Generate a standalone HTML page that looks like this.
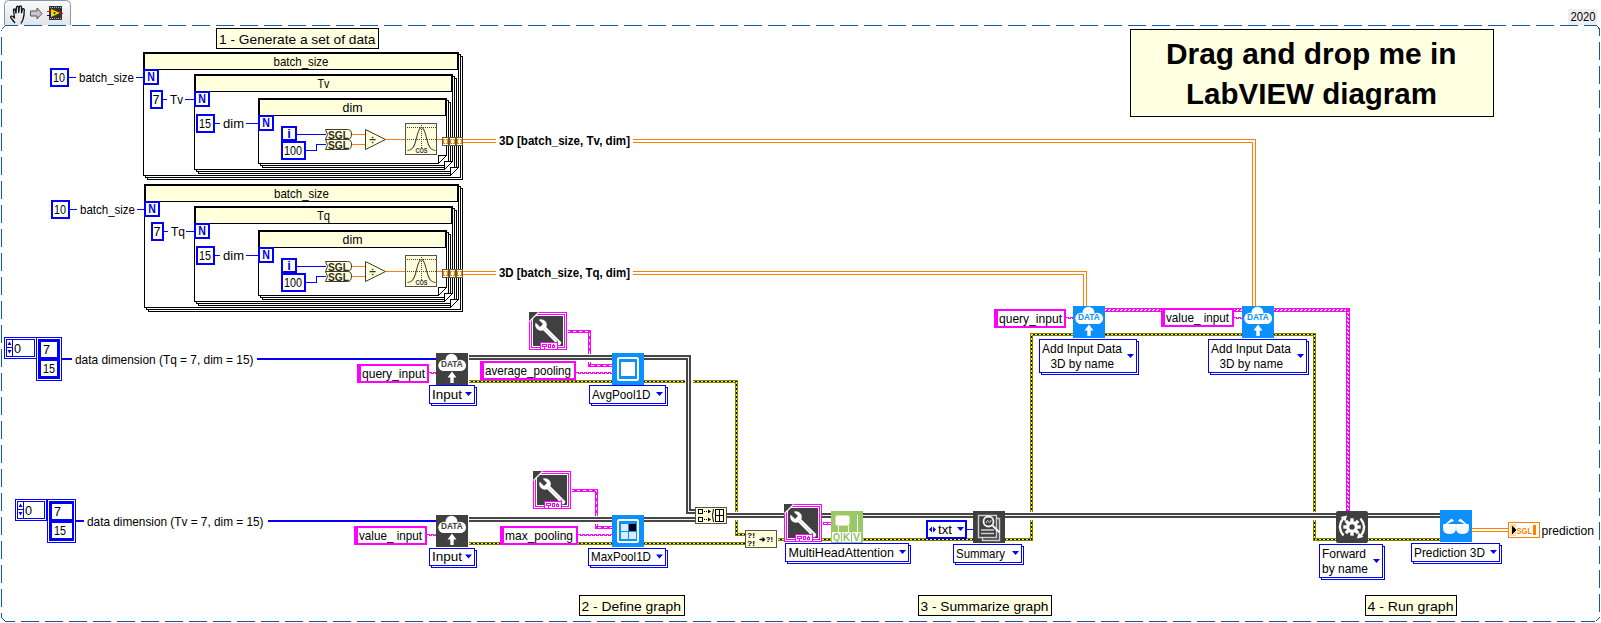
<!DOCTYPE html>
<html><head><meta charset="utf-8"><style>
html,body{margin:0;padding:0;background:#fff;overflow:hidden;}
svg{display:block;font-family:"Liberation Sans", sans-serif;}
</style></head><body>
<svg width="1601" height="623" viewBox="0 0 1601 623" shape-rendering="crispEdges">
<rect x="5" y="25" width="13" height="1" fill="#0B5DA5"/><rect x="24" y="25" width="18" height="1" fill="#0B5DA5"/><rect x="48" y="25" width="18" height="1" fill="#0B5DA5"/><rect x="72" y="25" width="18" height="1" fill="#0B5DA5"/><rect x="96" y="25" width="18" height="1" fill="#0B5DA5"/><rect x="120" y="25" width="18" height="1" fill="#0B5DA5"/><rect x="144" y="25" width="18" height="1" fill="#0B5DA5"/><rect x="168" y="25" width="18" height="1" fill="#0B5DA5"/><rect x="192" y="25" width="18" height="1" fill="#0B5DA5"/><rect x="216" y="25" width="18" height="1" fill="#0B5DA5"/><rect x="240" y="25" width="18" height="1" fill="#0B5DA5"/><rect x="264" y="25" width="18" height="1" fill="#0B5DA5"/><rect x="288" y="25" width="18" height="1" fill="#0B5DA5"/><rect x="312" y="25" width="18" height="1" fill="#0B5DA5"/><rect x="336" y="25" width="18" height="1" fill="#0B5DA5"/><rect x="360" y="25" width="18" height="1" fill="#0B5DA5"/><rect x="384" y="25" width="18" height="1" fill="#0B5DA5"/><rect x="408" y="25" width="18" height="1" fill="#0B5DA5"/><rect x="432" y="25" width="18" height="1" fill="#0B5DA5"/><rect x="456" y="25" width="18" height="1" fill="#0B5DA5"/><rect x="480" y="25" width="18" height="1" fill="#0B5DA5"/><rect x="504" y="25" width="18" height="1" fill="#0B5DA5"/><rect x="528" y="25" width="18" height="1" fill="#0B5DA5"/><rect x="552" y="25" width="18" height="1" fill="#0B5DA5"/><rect x="576" y="25" width="18" height="1" fill="#0B5DA5"/><rect x="600" y="25" width="18" height="1" fill="#0B5DA5"/><rect x="624" y="25" width="18" height="1" fill="#0B5DA5"/><rect x="648" y="25" width="18" height="1" fill="#0B5DA5"/><rect x="672" y="25" width="18" height="1" fill="#0B5DA5"/><rect x="696" y="25" width="18" height="1" fill="#0B5DA5"/><rect x="720" y="25" width="18" height="1" fill="#0B5DA5"/><rect x="744" y="25" width="18" height="1" fill="#0B5DA5"/><rect x="768" y="25" width="18" height="1" fill="#0B5DA5"/><rect x="792" y="25" width="18" height="1" fill="#0B5DA5"/><rect x="816" y="25" width="18" height="1" fill="#0B5DA5"/><rect x="840" y="25" width="18" height="1" fill="#0B5DA5"/><rect x="864" y="25" width="18" height="1" fill="#0B5DA5"/><rect x="888" y="25" width="18" height="1" fill="#0B5DA5"/><rect x="912" y="25" width="18" height="1" fill="#0B5DA5"/><rect x="936" y="25" width="18" height="1" fill="#0B5DA5"/><rect x="960" y="25" width="18" height="1" fill="#0B5DA5"/><rect x="984" y="25" width="18" height="1" fill="#0B5DA5"/><rect x="1008" y="25" width="18" height="1" fill="#0B5DA5"/><rect x="1032" y="25" width="18" height="1" fill="#0B5DA5"/><rect x="1056" y="25" width="18" height="1" fill="#0B5DA5"/><rect x="1080" y="25" width="18" height="1" fill="#0B5DA5"/><rect x="1104" y="25" width="18" height="1" fill="#0B5DA5"/><rect x="1128" y="25" width="18" height="1" fill="#0B5DA5"/><rect x="1152" y="25" width="18" height="1" fill="#0B5DA5"/><rect x="1176" y="25" width="18" height="1" fill="#0B5DA5"/><rect x="1200" y="25" width="18" height="1" fill="#0B5DA5"/><rect x="1224" y="25" width="18" height="1" fill="#0B5DA5"/><rect x="1248" y="25" width="18" height="1" fill="#0B5DA5"/><rect x="1272" y="25" width="18" height="1" fill="#0B5DA5"/><rect x="1296" y="25" width="18" height="1" fill="#0B5DA5"/><rect x="1320" y="25" width="18" height="1" fill="#0B5DA5"/><rect x="1344" y="25" width="18" height="1" fill="#0B5DA5"/><rect x="1368" y="25" width="18" height="1" fill="#0B5DA5"/><rect x="1392" y="25" width="18" height="1" fill="#0B5DA5"/><rect x="1416" y="25" width="18" height="1" fill="#0B5DA5"/><rect x="1440" y="25" width="18" height="1" fill="#0B5DA5"/><rect x="1464" y="25" width="18" height="1" fill="#0B5DA5"/><rect x="1488" y="25" width="18" height="1" fill="#0B5DA5"/><rect x="1512" y="25" width="18" height="1" fill="#0B5DA5"/><rect x="1536" y="25" width="18" height="1" fill="#0B5DA5"/><rect x="1560" y="25" width="18" height="1" fill="#0B5DA5"/><rect x="1584" y="25" width="11" height="1" fill="#0B5DA5"/><rect x="5" y="621" width="10" height="1" fill="#0B5DA5"/><rect x="21" y="621" width="18" height="1" fill="#0B5DA5"/><rect x="45" y="621" width="18" height="1" fill="#0B5DA5"/><rect x="69" y="621" width="18" height="1" fill="#0B5DA5"/><rect x="93" y="621" width="18" height="1" fill="#0B5DA5"/><rect x="117" y="621" width="18" height="1" fill="#0B5DA5"/><rect x="141" y="621" width="18" height="1" fill="#0B5DA5"/><rect x="165" y="621" width="18" height="1" fill="#0B5DA5"/><rect x="189" y="621" width="18" height="1" fill="#0B5DA5"/><rect x="213" y="621" width="18" height="1" fill="#0B5DA5"/><rect x="237" y="621" width="18" height="1" fill="#0B5DA5"/><rect x="261" y="621" width="18" height="1" fill="#0B5DA5"/><rect x="285" y="621" width="18" height="1" fill="#0B5DA5"/><rect x="309" y="621" width="18" height="1" fill="#0B5DA5"/><rect x="333" y="621" width="18" height="1" fill="#0B5DA5"/><rect x="357" y="621" width="18" height="1" fill="#0B5DA5"/><rect x="381" y="621" width="18" height="1" fill="#0B5DA5"/><rect x="405" y="621" width="18" height="1" fill="#0B5DA5"/><rect x="429" y="621" width="18" height="1" fill="#0B5DA5"/><rect x="453" y="621" width="18" height="1" fill="#0B5DA5"/><rect x="477" y="621" width="18" height="1" fill="#0B5DA5"/><rect x="501" y="621" width="18" height="1" fill="#0B5DA5"/><rect x="525" y="621" width="18" height="1" fill="#0B5DA5"/><rect x="549" y="621" width="18" height="1" fill="#0B5DA5"/><rect x="573" y="621" width="18" height="1" fill="#0B5DA5"/><rect x="597" y="621" width="18" height="1" fill="#0B5DA5"/><rect x="621" y="621" width="18" height="1" fill="#0B5DA5"/><rect x="645" y="621" width="18" height="1" fill="#0B5DA5"/><rect x="669" y="621" width="18" height="1" fill="#0B5DA5"/><rect x="693" y="621" width="18" height="1" fill="#0B5DA5"/><rect x="717" y="621" width="18" height="1" fill="#0B5DA5"/><rect x="741" y="621" width="18" height="1" fill="#0B5DA5"/><rect x="765" y="621" width="18" height="1" fill="#0B5DA5"/><rect x="789" y="621" width="18" height="1" fill="#0B5DA5"/><rect x="813" y="621" width="18" height="1" fill="#0B5DA5"/><rect x="837" y="621" width="18" height="1" fill="#0B5DA5"/><rect x="861" y="621" width="18" height="1" fill="#0B5DA5"/><rect x="885" y="621" width="18" height="1" fill="#0B5DA5"/><rect x="909" y="621" width="18" height="1" fill="#0B5DA5"/><rect x="933" y="621" width="18" height="1" fill="#0B5DA5"/><rect x="957" y="621" width="18" height="1" fill="#0B5DA5"/><rect x="981" y="621" width="18" height="1" fill="#0B5DA5"/><rect x="1005" y="621" width="18" height="1" fill="#0B5DA5"/><rect x="1029" y="621" width="18" height="1" fill="#0B5DA5"/><rect x="1053" y="621" width="18" height="1" fill="#0B5DA5"/><rect x="1077" y="621" width="18" height="1" fill="#0B5DA5"/><rect x="1101" y="621" width="18" height="1" fill="#0B5DA5"/><rect x="1125" y="621" width="18" height="1" fill="#0B5DA5"/><rect x="1149" y="621" width="18" height="1" fill="#0B5DA5"/><rect x="1173" y="621" width="18" height="1" fill="#0B5DA5"/><rect x="1197" y="621" width="18" height="1" fill="#0B5DA5"/><rect x="1221" y="621" width="18" height="1" fill="#0B5DA5"/><rect x="1245" y="621" width="18" height="1" fill="#0B5DA5"/><rect x="1269" y="621" width="18" height="1" fill="#0B5DA5"/><rect x="1293" y="621" width="18" height="1" fill="#0B5DA5"/><rect x="1317" y="621" width="18" height="1" fill="#0B5DA5"/><rect x="1341" y="621" width="18" height="1" fill="#0B5DA5"/><rect x="1365" y="621" width="18" height="1" fill="#0B5DA5"/><rect x="1389" y="621" width="18" height="1" fill="#0B5DA5"/><rect x="1413" y="621" width="18" height="1" fill="#0B5DA5"/><rect x="1437" y="621" width="18" height="1" fill="#0B5DA5"/><rect x="1461" y="621" width="18" height="1" fill="#0B5DA5"/><rect x="1485" y="621" width="18" height="1" fill="#0B5DA5"/><rect x="1509" y="621" width="18" height="1" fill="#0B5DA5"/><rect x="1533" y="621" width="18" height="1" fill="#0B5DA5"/><rect x="1557" y="621" width="18" height="1" fill="#0B5DA5"/><rect x="1581" y="621" width="14" height="1" fill="#0B5DA5"/><rect x="1" y="30" width="1" height="1" fill="#0B5DA5"/><rect x="1" y="37" width="1" height="18" fill="#0B5DA5"/><rect x="1" y="61" width="1" height="18" fill="#0B5DA5"/><rect x="1" y="85" width="1" height="18" fill="#0B5DA5"/><rect x="1" y="109" width="1" height="18" fill="#0B5DA5"/><rect x="1" y="133" width="1" height="18" fill="#0B5DA5"/><rect x="1" y="157" width="1" height="18" fill="#0B5DA5"/><rect x="1" y="181" width="1" height="18" fill="#0B5DA5"/><rect x="1" y="205" width="1" height="18" fill="#0B5DA5"/><rect x="1" y="229" width="1" height="18" fill="#0B5DA5"/><rect x="1" y="253" width="1" height="18" fill="#0B5DA5"/><rect x="1" y="277" width="1" height="18" fill="#0B5DA5"/><rect x="1" y="301" width="1" height="18" fill="#0B5DA5"/><rect x="1" y="325" width="1" height="18" fill="#0B5DA5"/><rect x="1" y="349" width="1" height="18" fill="#0B5DA5"/><rect x="1" y="373" width="1" height="18" fill="#0B5DA5"/><rect x="1" y="397" width="1" height="18" fill="#0B5DA5"/><rect x="1" y="421" width="1" height="18" fill="#0B5DA5"/><rect x="1" y="445" width="1" height="18" fill="#0B5DA5"/><rect x="1" y="469" width="1" height="18" fill="#0B5DA5"/><rect x="1" y="493" width="1" height="18" fill="#0B5DA5"/><rect x="1" y="517" width="1" height="18" fill="#0B5DA5"/><rect x="1" y="541" width="1" height="18" fill="#0B5DA5"/><rect x="1" y="565" width="1" height="18" fill="#0B5DA5"/><rect x="1" y="589" width="1" height="18" fill="#0B5DA5"/><rect x="1" y="613" width="1" height="4" fill="#0B5DA5"/><rect x="1599" y="30" width="1" height="6" fill="#0B5DA5"/><rect x="1599" y="42" width="1" height="18" fill="#0B5DA5"/><rect x="1599" y="66" width="1" height="18" fill="#0B5DA5"/><rect x="1599" y="90" width="1" height="18" fill="#0B5DA5"/><rect x="1599" y="114" width="1" height="18" fill="#0B5DA5"/><rect x="1599" y="138" width="1" height="18" fill="#0B5DA5"/><rect x="1599" y="162" width="1" height="18" fill="#0B5DA5"/><rect x="1599" y="186" width="1" height="18" fill="#0B5DA5"/><rect x="1599" y="210" width="1" height="18" fill="#0B5DA5"/><rect x="1599" y="234" width="1" height="18" fill="#0B5DA5"/><rect x="1599" y="258" width="1" height="18" fill="#0B5DA5"/><rect x="1599" y="282" width="1" height="18" fill="#0B5DA5"/><rect x="1599" y="306" width="1" height="18" fill="#0B5DA5"/><rect x="1599" y="330" width="1" height="18" fill="#0B5DA5"/><rect x="1599" y="354" width="1" height="18" fill="#0B5DA5"/><rect x="1599" y="378" width="1" height="18" fill="#0B5DA5"/><rect x="1599" y="402" width="1" height="18" fill="#0B5DA5"/><rect x="1599" y="426" width="1" height="18" fill="#0B5DA5"/><rect x="1599" y="450" width="1" height="18" fill="#0B5DA5"/><rect x="1599" y="474" width="1" height="18" fill="#0B5DA5"/><rect x="1599" y="498" width="1" height="18" fill="#0B5DA5"/><rect x="1599" y="522" width="1" height="18" fill="#0B5DA5"/><rect x="1599" y="546" width="1" height="18" fill="#0B5DA5"/><rect x="1599" y="570" width="1" height="18" fill="#0B5DA5"/><rect x="1599" y="594" width="1" height="18" fill="#0B5DA5"/><path d="M5.5 25.5 L1.5 29.5" stroke="#0B5DA5" stroke-width="1" fill="none"/><path d="M1595 25.5 Q1599.5 26 1599.5 31" stroke="#0B5DA5" stroke-width="1" fill="none"/><path d="M1595.5 621.5 L1599.5 617.5" stroke="#0B5DA5" stroke-width="1" fill="none"/><path d="M1.5 617.5 L5.5 621.5" stroke="#0B5DA5" stroke-width="1" fill="none"/><defs><linearGradient id="tabg" x1="0" y1="0" x2="0" y2="1"><stop offset="0" stop-color="#FAFAFB"/><stop offset="1" stop-color="#E2E4E8"/></linearGradient></defs><path d="M4.5 25 L4.5 4.5 Q4.5 0.5 8.5 0.5 L66.5 0.5 Q70.5 0.5 70.5 4.5 L70.5 25" fill="url(#tabg)" stroke="#8A94A8" stroke-width="1" shape-rendering="geometricPrecision"/><g shape-rendering="geometricPrecision"><path d="M15 23 L11 18 Q10 16.5 11.5 16 L13 16.5 L14.5 18 L13.5 10 Q13.5 8.5 15 9 L16 13 L16.5 7 Q17.5 5.5 18.5 7 L18.7 12.5 L19.5 6.5 Q20.5 5.3 21.5 6.8 L21.5 12.8 L22.5 9 Q23.5 8 24.3 9.5 L24 15 L23 19.5 L21 23.5" fill="none" stroke="#111" stroke-width="1.3" stroke-linejoin="round"/><path d="M30.5 11 H37 V8 L42 13.5 L37 19 V16 H30.5 Z" fill="#C8C8C8" stroke="#555" stroke-width="1"/></g><rect x="49" y="6" width="13" height="14" fill="#333"/><g shape-rendering="geometricPrecision"><path d="M51 9 L60 13 L51 17 Z" fill="#F5D800"/><path d="M47 11.5 H51 M48 15.5 H51" stroke="#E00" stroke-width="1"/><path d="M47 15.5 H51" stroke="#00E" stroke-width="1"/><path d="M59 13.5 H63" stroke="#E00" stroke-width="1"/><circle cx="54.5" cy="13" r="1" fill="#222"/></g><rect x="50" y="7" width="1" height="1" fill="#aaa"/><rect x="50" y="18" width="1" height="1" fill="#aaa"/><rect x="52" y="7" width="1" height="1" fill="#aaa"/><rect x="52" y="18" width="1" height="1" fill="#aaa"/><rect x="54" y="7" width="1" height="1" fill="#aaa"/><rect x="54" y="18" width="1" height="1" fill="#aaa"/><rect x="56" y="7" width="1" height="1" fill="#aaa"/><rect x="56" y="18" width="1" height="1" fill="#aaa"/><rect x="58" y="7" width="1" height="1" fill="#aaa"/><rect x="58" y="18" width="1" height="1" fill="#aaa"/><rect x="60" y="7" width="1" height="1" fill="#aaa"/><rect x="60" y="18" width="1" height="1" fill="#aaa"/><rect x="1568" y="9" width="29" height="16" fill="#EEEEEE"/><text x="1570.5" y="21" font-size="12.5" font-weight="normal" fill="#000" text-anchor="start" textLength="25" lengthAdjust="spacingAndGlyphs">2020</text><rect x="216" y="28" width="163" height="21" fill="#FFFFE1"/><rect x="216" y="28" width="163" height="1" fill="#000"/><rect x="216" y="48" width="163" height="1" fill="#000"/><rect x="216" y="28" width="1" height="21" fill="#000"/><rect x="378" y="28" width="1" height="21" fill="#000"/><text x="219" y="43.5" font-size="13" font-weight="normal" fill="#000" text-anchor="start" textLength="156.5" lengthAdjust="spacingAndGlyphs">1 - Generate a set of data</text><rect x="579" y="595" width="106" height="21" fill="#FFFFE1"/><rect x="579" y="595" width="106" height="1" fill="#000"/><rect x="579" y="615" width="106" height="1" fill="#000"/><rect x="579" y="595" width="1" height="21" fill="#000"/><rect x="684" y="595" width="1" height="21" fill="#000"/><text x="581.5" y="610.5" font-size="13" font-weight="normal" fill="#000" text-anchor="start" textLength="99.5" lengthAdjust="spacingAndGlyphs">2 - Define graph</text><rect x="918" y="595" width="134" height="21" fill="#FFFFE1"/><rect x="918" y="595" width="134" height="1" fill="#000"/><rect x="918" y="615" width="134" height="1" fill="#000"/><rect x="918" y="595" width="1" height="21" fill="#000"/><rect x="1051" y="595" width="1" height="21" fill="#000"/><text x="920.5" y="610.5" font-size="13" font-weight="normal" fill="#000" text-anchor="start" textLength="128" lengthAdjust="spacingAndGlyphs">3 - Summarize graph</text><rect x="1365" y="595" width="92" height="21" fill="#FFFFE1"/><rect x="1365" y="595" width="92" height="1" fill="#000"/><rect x="1365" y="615" width="92" height="1" fill="#000"/><rect x="1365" y="595" width="1" height="21" fill="#000"/><rect x="1456" y="595" width="1" height="21" fill="#000"/><text x="1367.5" y="610.5" font-size="13" font-weight="normal" fill="#000" text-anchor="start" textLength="86" lengthAdjust="spacingAndGlyphs">4 - Run graph</text><rect x="1130" y="29" width="364" height="88" fill="#FFFFE1"/><rect x="1130" y="29" width="364" height="1" fill="#000"/><rect x="1130" y="116" width="364" height="1" fill="#000"/><rect x="1130" y="29" width="1" height="88" fill="#000"/><rect x="1493" y="29" width="1" height="88" fill="#000"/><text x="1166" y="63.5" font-size="29" font-weight="bold" fill="#000" text-anchor="start" textLength="290.5" lengthAdjust="spacingAndGlyphs">Drag and drop me in</text><text x="1186" y="104" font-size="29" font-weight="bold" fill="#000" text-anchor="start" textLength="251" lengthAdjust="spacingAndGlyphs">LabVIEW diagram</text><path d="M147.5 56.5 L462.5 56.5 L462.5 179.5 L147.5 179.5 Z" fill="#fff" stroke="#000" stroke-width="1"/><path d="M145.5 54.5 L460.5 54.5 L460.5 177.5 L145.5 177.5 Z" fill="#fff" stroke="#000" stroke-width="1"/><path d="M143.5 52.5 L458.5 52.5 L458.5 167.5 L450.5 175.5 L143.5 175.5 Z" fill="#fff" stroke="#000" stroke-width="1"/><rect x="143" y="52" width="316" height="18" fill="#000"/><rect x="145" y="54" width="312" height="15" fill="#FFFFDC"/><text x="273.5" y="66" font-size="13" font-weight="normal" fill="#000" text-anchor="start" textLength="55" lengthAdjust="spacingAndGlyphs">batch_size</text><path d="M198.5 78.5 L456.5 78.5 L456.5 173.5 L198.5 173.5 Z" fill="#fff" stroke="#000" stroke-width="1"/><path d="M196.5 76.5 L454.5 76.5 L454.5 171.5 L196.5 171.5 Z" fill="#fff" stroke="#000" stroke-width="1"/><path d="M194.5 74.5 L452.5 74.5 L452.5 161.5 L444.5 169.5 L194.5 169.5 Z" fill="#fff" stroke="#000" stroke-width="1"/><rect x="194" y="74" width="259" height="18" fill="#000"/><rect x="196" y="76" width="255" height="15" fill="#FFFFDC"/><text x="317.5" y="88" font-size="13" font-weight="normal" fill="#000" text-anchor="start" textLength="12" lengthAdjust="spacingAndGlyphs">Tv</text><path d="M262.5 102.5 L450.5 102.5 L450.5 167.5 L262.5 167.5 Z" fill="#fff" stroke="#000" stroke-width="1"/><path d="M260.5 100.5 L448.5 100.5 L448.5 165.5 L260.5 165.5 Z" fill="#fff" stroke="#000" stroke-width="1"/><path d="M258.5 98.5 L446.5 98.5 L446.5 155.5 L438.5 163.5 L258.5 163.5 Z" fill="#fff" stroke="#000" stroke-width="1"/><rect x="258" y="98" width="189" height="18" fill="#000"/><rect x="260" y="100" width="185" height="15" fill="#FFFFDC"/><text x="342.5" y="112" font-size="13" font-weight="normal" fill="#000" text-anchor="start" textLength="20" lengthAdjust="spacingAndGlyphs">dim</text><rect x="438" y="155" width="9" height="9" fill="#fff"/><path d="M438.5 163.5 L438.5 155.5 L446.5 155.5 L438.5 163.5" fill="none" stroke="#000" stroke-width="1"/><rect x="444" y="161" width="9" height="9" fill="#fff"/><path d="M444.5 169.5 L444.5 161.5 L452.5 161.5 L444.5 169.5" fill="none" stroke="#000" stroke-width="1"/><rect x="450" y="167" width="9" height="9" fill="#fff"/><path d="M450.5 175.5 L450.5 167.5 L458.5 167.5 L450.5 175.5" fill="none" stroke="#000" stroke-width="1"/><rect x="50" y="68" width="19" height="19" fill="#fff"/><rect x="50" y="68" width="19" height="2" fill="#0000FF"/><rect x="50" y="85" width="19" height="2" fill="#0000FF"/><rect x="50" y="68" width="2" height="19" fill="#0000FF"/><rect x="67" y="68" width="2" height="19" fill="#0000FF"/><text x="53" y="82" font-size="13" font-weight="normal" fill="#000" text-anchor="start" textLength="12" lengthAdjust="spacingAndGlyphs">10</text><rect x="69" y="77" width="7" height="1" fill="#0000FF"/><text x="79" y="82" font-size="13" font-weight="normal" fill="#000" text-anchor="start" textLength="55" lengthAdjust="spacingAndGlyphs">batch_size</text><rect x="136" y="77" width="8" height="1" fill="#0000FF"/><rect x="143" y="69" width="16" height="16" fill="#FFFFDC"/><rect x="143" y="69" width="16" height="2" fill="#0000FF"/><rect x="143" y="83" width="16" height="2" fill="#0000FF"/><rect x="143" y="69" width="2" height="16" fill="#0000FF"/><rect x="157" y="69" width="2" height="16" fill="#0000FF"/><text x="147.3" y="81.3" font-size="13" font-weight="bold" fill="#0000FF" textLength="7.6" lengthAdjust="spacingAndGlyphs">N</text><rect x="150" y="90" width="13" height="19" fill="#fff"/><rect x="150" y="90" width="13" height="2" fill="#0000FF"/><rect x="150" y="107" width="13" height="2" fill="#0000FF"/><rect x="150" y="90" width="2" height="19" fill="#0000FF"/><rect x="161" y="90" width="2" height="19" fill="#0000FF"/><text x="152.5" y="104" font-size="13" font-weight="normal" fill="#000" text-anchor="start" textLength="7" lengthAdjust="spacingAndGlyphs">7</text><rect x="163" y="99" width="4" height="1" fill="#0000FF"/><text x="170" y="104" font-size="13" font-weight="normal" fill="#000" text-anchor="start" textLength="13" lengthAdjust="spacingAndGlyphs">Tv</text><rect x="185" y="99" width="10" height="1" fill="#0000FF"/><rect x="194" y="91" width="16" height="16" fill="#FFFFDC"/><rect x="194" y="91" width="16" height="2" fill="#0000FF"/><rect x="194" y="105" width="16" height="2" fill="#0000FF"/><rect x="194" y="91" width="2" height="16" fill="#0000FF"/><rect x="208" y="91" width="2" height="16" fill="#0000FF"/><text x="198.3" y="103.3" font-size="13" font-weight="bold" fill="#0000FF" textLength="7.6" lengthAdjust="spacingAndGlyphs">N</text><rect x="196" y="114" width="19" height="19" fill="#fff"/><rect x="196" y="114" width="19" height="2" fill="#0000FF"/><rect x="196" y="131" width="19" height="2" fill="#0000FF"/><rect x="196" y="114" width="2" height="19" fill="#0000FF"/><rect x="213" y="114" width="2" height="19" fill="#0000FF"/><text x="199" y="128" font-size="13" font-weight="normal" fill="#000" text-anchor="start" textLength="12" lengthAdjust="spacingAndGlyphs">15</text><rect x="215" y="123" width="5" height="1" fill="#0000FF"/><text x="223" y="128" font-size="13" font-weight="normal" fill="#000" text-anchor="start" textLength="21" lengthAdjust="spacingAndGlyphs">dim</text><rect x="246" y="123" width="13" height="1" fill="#0000FF"/><rect x="258" y="115" width="16" height="16" fill="#FFFFDC"/><rect x="258" y="115" width="16" height="2" fill="#0000FF"/><rect x="258" y="129" width="16" height="2" fill="#0000FF"/><rect x="258" y="115" width="2" height="16" fill="#0000FF"/><rect x="272" y="115" width="2" height="16" fill="#0000FF"/><text x="262.3" y="127.3" font-size="13" font-weight="bold" fill="#0000FF" textLength="7.6" lengthAdjust="spacingAndGlyphs">N</text><rect x="281" y="126" width="16" height="15" fill="#FFFFDC"/><rect x="281" y="126" width="16" height="2" fill="#0000FF"/><rect x="281" y="139" width="16" height="2" fill="#0000FF"/><rect x="281" y="126" width="2" height="15" fill="#0000FF"/><rect x="295" y="126" width="2" height="15" fill="#0000FF"/><text x="289" y="137.5" font-size="13" font-weight="bold" fill="#0000FF" text-anchor="middle">i</text><rect x="281" y="141" width="25" height="19" fill="#fff"/><rect x="281" y="141" width="25" height="2" fill="#0000FF"/><rect x="281" y="158" width="25" height="2" fill="#0000FF"/><rect x="281" y="141" width="2" height="19" fill="#0000FF"/><rect x="304" y="141" width="2" height="19" fill="#0000FF"/><text x="284" y="155" font-size="13" font-weight="normal" fill="#000" text-anchor="start" textLength="18" lengthAdjust="spacingAndGlyphs">100</text><rect x="297" y="134" width="29" height="1" fill="#0000FF"/><rect x="306" y="150" width="11" height="1" fill="#0000FF"/><rect x="316" y="144" width="1" height="7" fill="#0000FF"/><rect x="316" y="144" width="10" height="1" fill="#0000FF"/><path d="M325.5 129.5 L347.5 129.5 Q351.5 129.5 351.5 134 Q351.5 139.5 347.5 139.5 L325.5 139.5 L327.5 134.5 Z" fill="#FFFFDC" stroke="#3C3C28" stroke-width="1" shape-rendering="geometricPrecision"/><text x="328" y="138.5" font-size="10" font-weight="bold" fill="#2E2E20" textLength="21" lengthAdjust="spacingAndGlyphs">SGL</text><path d="M325.5 139.5 L347.5 139.5 Q351.5 139.5 351.5 144 Q351.5 149.5 347.5 149.5 L325.5 149.5 L327.5 144.5 Z" fill="#FFFFDC" stroke="#3C3C28" stroke-width="1" shape-rendering="geometricPrecision"/><text x="328" y="148.5" font-size="10" font-weight="bold" fill="#2E2E20" textLength="21" lengthAdjust="spacingAndGlyphs">SGL</text><rect x="352" y="134" width="14" height="1" fill="#FF8000"/><rect x="352" y="144" width="14" height="1" fill="#FF8000"/><path d="M365.5 129.5 L385.5 139.5 L365.5 149.5 Z" fill="#FFFFDC" stroke="#3C3C28" stroke-width="1" shape-rendering="geometricPrecision"/><text x="372.5" y="144" font-size="12" font-weight="bold" fill="#333" text-anchor="middle">÷</text><rect x="386" y="139" width="20" height="1" fill="#FF8000"/><rect x="405" y="123" width="32" height="32" fill="#FFFFDC"/><rect x="405" y="123" width="32" height="1" fill="#505046"/><rect x="405" y="154" width="32" height="1" fill="#505046"/><rect x="405" y="123" width="1" height="32" fill="#505046"/><rect x="436" y="123" width="1" height="32" fill="#505046"/><g shape-rendering="crispEdges" fill="#444"><rect x="407" y="127" width="1" height="1"/><rect x="407" y="139" width="1" height="1"/><rect x="409" y="127" width="1" height="1"/><rect x="409" y="139" width="1" height="1"/><rect x="411" y="127" width="1" height="1"/><rect x="411" y="139" width="1" height="1"/><rect x="413" y="127" width="1" height="1"/><rect x="413" y="139" width="1" height="1"/><rect x="415" y="127" width="1" height="1"/><rect x="415" y="139" width="1" height="1"/><rect x="417" y="127" width="1" height="1"/><rect x="417" y="139" width="1" height="1"/><rect x="419" y="127" width="1" height="1"/><rect x="419" y="139" width="1" height="1"/><rect x="421" y="127" width="1" height="1"/><rect x="421" y="139" width="1" height="1"/><rect x="423" y="127" width="1" height="1"/><rect x="423" y="139" width="1" height="1"/><rect x="425" y="127" width="1" height="1"/><rect x="425" y="139" width="1" height="1"/><rect x="427" y="127" width="1" height="1"/><rect x="427" y="139" width="1" height="1"/><rect x="429" y="127" width="1" height="1"/><rect x="429" y="139" width="1" height="1"/><rect x="431" y="127" width="1" height="1"/><rect x="431" y="139" width="1" height="1"/><rect x="433" y="127" width="1" height="1"/><rect x="433" y="139" width="1" height="1"/><rect x="435" y="127" width="1" height="1"/><rect x="435" y="139" width="1" height="1"/><rect x="421" y="125" width="1" height="1"/><rect x="421" y="127" width="1" height="1"/><rect x="421" y="129" width="1" height="1"/><rect x="421" y="131" width="1" height="1"/><rect x="421" y="133" width="1" height="1"/><rect x="421" y="135" width="1" height="1"/><rect x="421" y="137" width="1" height="1"/><rect x="421" y="139" width="1" height="1"/><rect x="421" y="141" width="1" height="1"/><rect x="421" y="143" width="1" height="1"/><rect x="421" y="145" width="1" height="1"/><rect x="421" y="147" width="1" height="1"/></g><g shape-rendering="geometricPrecision"><path d="M407.5 150.5 C412 150.5 414.5 147 416 140 C418 131 419.5 127.5 421.5 127.5 C423.5 127.5 425 131 427 140 C428.5 147 431 150.5 435.5 150.5" stroke="#3A3A30" stroke-width="1.1" fill="none"/><text x="421.5" y="153" font-size="6.5" font-weight="bold" fill="#333" text-anchor="middle" textLength="12" lengthAdjust="spacingAndGlyphs">COS</text></g><rect x="437" y="139" width="6" height="1" fill="#FF8000"/><rect x="442" y="137" width="7" height="9" fill="#FFFFDC"/><rect x="442" y="137" width="7" height="1" fill="#5A5A46"/><rect x="442" y="145" width="7" height="1" fill="#5A5A46"/><rect x="442" y="137" width="1" height="9" fill="#5A5A46"/><rect x="448" y="137" width="1" height="9" fill="#5A5A46"/><rect x="443" y="139" width="1" height="5" fill="#FF8000"/><rect x="444" y="139" width="1" height="1" fill="#FF8000"/><rect x="444" y="143" width="1" height="1" fill="#FF8000"/><rect x="447" y="139" width="1" height="5" fill="#FF8000"/><rect x="446" y="139" width="1" height="1" fill="#FF8000"/><rect x="446" y="143" width="1" height="1" fill="#FF8000"/><rect x="449" y="137" width="7" height="9" fill="#FFFFDC"/><rect x="449" y="137" width="7" height="1" fill="#5A5A46"/><rect x="449" y="145" width="7" height="1" fill="#5A5A46"/><rect x="449" y="137" width="1" height="9" fill="#5A5A46"/><rect x="455" y="137" width="1" height="9" fill="#5A5A46"/><rect x="450" y="139" width="1" height="5" fill="#FF8000"/><rect x="451" y="139" width="1" height="1" fill="#FF8000"/><rect x="451" y="143" width="1" height="1" fill="#FF8000"/><rect x="454" y="139" width="1" height="5" fill="#FF8000"/><rect x="453" y="139" width="1" height="1" fill="#FF8000"/><rect x="453" y="143" width="1" height="1" fill="#FF8000"/><rect x="456" y="137" width="7" height="9" fill="#FFFFDC"/><rect x="456" y="137" width="7" height="1" fill="#5A5A46"/><rect x="456" y="145" width="7" height="1" fill="#5A5A46"/><rect x="456" y="137" width="1" height="9" fill="#5A5A46"/><rect x="462" y="137" width="1" height="9" fill="#5A5A46"/><rect x="457" y="139" width="1" height="5" fill="#FF8000"/><rect x="458" y="139" width="1" height="1" fill="#FF8000"/><rect x="458" y="143" width="1" height="1" fill="#FF8000"/><rect x="461" y="139" width="1" height="5" fill="#FF8000"/><rect x="460" y="139" width="1" height="1" fill="#FF8000"/><rect x="460" y="143" width="1" height="1" fill="#FF8000"/><path d="M148.5 188.5 L462.5 188.5 L462.5 311.5 L148.5 311.5 Z" fill="#fff" stroke="#000" stroke-width="1"/><path d="M146.5 186.5 L460.5 186.5 L460.5 309.5 L146.5 309.5 Z" fill="#fff" stroke="#000" stroke-width="1"/><path d="M144.5 184.5 L458.5 184.5 L458.5 299.5 L450.5 307.5 L144.5 307.5 Z" fill="#fff" stroke="#000" stroke-width="1"/><rect x="144" y="184" width="315" height="18" fill="#000"/><rect x="146" y="186" width="311" height="15" fill="#FFFFDC"/><text x="274.0" y="198" font-size="13" font-weight="normal" fill="#000" text-anchor="start" textLength="55" lengthAdjust="spacingAndGlyphs">batch_size</text><path d="M198.5 210.5 L456.5 210.5 L456.5 305.5 L198.5 305.5 Z" fill="#fff" stroke="#000" stroke-width="1"/><path d="M196.5 208.5 L454.5 208.5 L454.5 303.5 L196.5 303.5 Z" fill="#fff" stroke="#000" stroke-width="1"/><path d="M194.5 206.5 L452.5 206.5 L452.5 293.5 L444.5 301.5 L194.5 301.5 Z" fill="#fff" stroke="#000" stroke-width="1"/><rect x="194" y="206" width="259" height="18" fill="#000"/><rect x="196" y="208" width="255" height="15" fill="#FFFFDC"/><text x="317.0" y="220" font-size="13" font-weight="normal" fill="#000" text-anchor="start" textLength="13" lengthAdjust="spacingAndGlyphs">Tq</text><path d="M262.5 234.5 L450.5 234.5 L450.5 299.5 L262.5 299.5 Z" fill="#fff" stroke="#000" stroke-width="1"/><path d="M260.5 232.5 L448.5 232.5 L448.5 297.5 L260.5 297.5 Z" fill="#fff" stroke="#000" stroke-width="1"/><path d="M258.5 230.5 L446.5 230.5 L446.5 287.5 L438.5 295.5 L258.5 295.5 Z" fill="#fff" stroke="#000" stroke-width="1"/><rect x="258" y="230" width="189" height="18" fill="#000"/><rect x="260" y="232" width="185" height="15" fill="#FFFFDC"/><text x="342.5" y="244" font-size="13" font-weight="normal" fill="#000" text-anchor="start" textLength="20" lengthAdjust="spacingAndGlyphs">dim</text><rect x="438" y="287" width="9" height="9" fill="#fff"/><path d="M438.5 295.5 L438.5 287.5 L446.5 287.5 L438.5 295.5" fill="none" stroke="#000" stroke-width="1"/><rect x="444" y="293" width="9" height="9" fill="#fff"/><path d="M444.5 301.5 L444.5 293.5 L452.5 293.5 L444.5 301.5" fill="none" stroke="#000" stroke-width="1"/><rect x="450" y="299" width="9" height="9" fill="#fff"/><path d="M450.5 307.5 L450.5 299.5 L458.5 299.5 L450.5 307.5" fill="none" stroke="#000" stroke-width="1"/><rect x="51" y="200" width="19" height="19" fill="#fff"/><rect x="51" y="200" width="19" height="2" fill="#0000FF"/><rect x="51" y="217" width="19" height="2" fill="#0000FF"/><rect x="51" y="200" width="2" height="19" fill="#0000FF"/><rect x="68" y="200" width="2" height="19" fill="#0000FF"/><text x="54" y="214" font-size="13" font-weight="normal" fill="#000" text-anchor="start" textLength="12" lengthAdjust="spacingAndGlyphs">10</text><rect x="70" y="209" width="7" height="1" fill="#0000FF"/><text x="80" y="214" font-size="13" font-weight="normal" fill="#000" text-anchor="start" textLength="55" lengthAdjust="spacingAndGlyphs">batch_size</text><rect x="137" y="209" width="8" height="1" fill="#0000FF"/><rect x="144" y="201" width="16" height="16" fill="#FFFFDC"/><rect x="144" y="201" width="16" height="2" fill="#0000FF"/><rect x="144" y="215" width="16" height="2" fill="#0000FF"/><rect x="144" y="201" width="2" height="16" fill="#0000FF"/><rect x="158" y="201" width="2" height="16" fill="#0000FF"/><text x="148.3" y="213.3" font-size="13" font-weight="bold" fill="#0000FF" textLength="7.6" lengthAdjust="spacingAndGlyphs">N</text><rect x="151" y="222" width="13" height="19" fill="#fff"/><rect x="151" y="222" width="13" height="2" fill="#0000FF"/><rect x="151" y="239" width="13" height="2" fill="#0000FF"/><rect x="151" y="222" width="2" height="19" fill="#0000FF"/><rect x="162" y="222" width="2" height="19" fill="#0000FF"/><text x="153.5" y="236" font-size="13" font-weight="normal" fill="#000" text-anchor="start" textLength="7" lengthAdjust="spacingAndGlyphs">7</text><rect x="164" y="231" width="4" height="1" fill="#0000FF"/><text x="171" y="236" font-size="13" font-weight="normal" fill="#000" text-anchor="start" textLength="14" lengthAdjust="spacingAndGlyphs">Tq</text><rect x="186" y="231" width="9" height="1" fill="#0000FF"/><rect x="194" y="223" width="16" height="16" fill="#FFFFDC"/><rect x="194" y="223" width="16" height="2" fill="#0000FF"/><rect x="194" y="237" width="16" height="2" fill="#0000FF"/><rect x="194" y="223" width="2" height="16" fill="#0000FF"/><rect x="208" y="223" width="2" height="16" fill="#0000FF"/><text x="198.3" y="235.3" font-size="13" font-weight="bold" fill="#0000FF" textLength="7.6" lengthAdjust="spacingAndGlyphs">N</text><rect x="196" y="246" width="19" height="19" fill="#fff"/><rect x="196" y="246" width="19" height="2" fill="#0000FF"/><rect x="196" y="263" width="19" height="2" fill="#0000FF"/><rect x="196" y="246" width="2" height="19" fill="#0000FF"/><rect x="213" y="246" width="2" height="19" fill="#0000FF"/><text x="199" y="260" font-size="13" font-weight="normal" fill="#000" text-anchor="start" textLength="12" lengthAdjust="spacingAndGlyphs">15</text><rect x="215" y="255" width="5" height="1" fill="#0000FF"/><text x="223" y="260" font-size="13" font-weight="normal" fill="#000" text-anchor="start" textLength="21" lengthAdjust="spacingAndGlyphs">dim</text><rect x="246" y="255" width="13" height="1" fill="#0000FF"/><rect x="258" y="247" width="16" height="16" fill="#FFFFDC"/><rect x="258" y="247" width="16" height="2" fill="#0000FF"/><rect x="258" y="261" width="16" height="2" fill="#0000FF"/><rect x="258" y="247" width="2" height="16" fill="#0000FF"/><rect x="272" y="247" width="2" height="16" fill="#0000FF"/><text x="262.3" y="259.3" font-size="13" font-weight="bold" fill="#0000FF" textLength="7.6" lengthAdjust="spacingAndGlyphs">N</text><rect x="281" y="258" width="16" height="15" fill="#FFFFDC"/><rect x="281" y="258" width="16" height="2" fill="#0000FF"/><rect x="281" y="271" width="16" height="2" fill="#0000FF"/><rect x="281" y="258" width="2" height="15" fill="#0000FF"/><rect x="295" y="258" width="2" height="15" fill="#0000FF"/><text x="289" y="269.5" font-size="13" font-weight="bold" fill="#0000FF" text-anchor="middle">i</text><rect x="281" y="273" width="25" height="19" fill="#fff"/><rect x="281" y="273" width="25" height="2" fill="#0000FF"/><rect x="281" y="290" width="25" height="2" fill="#0000FF"/><rect x="281" y="273" width="2" height="19" fill="#0000FF"/><rect x="304" y="273" width="2" height="19" fill="#0000FF"/><text x="284" y="287" font-size="13" font-weight="normal" fill="#000" text-anchor="start" textLength="18" lengthAdjust="spacingAndGlyphs">100</text><rect x="297" y="266" width="29" height="1" fill="#0000FF"/><rect x="306" y="282" width="11" height="1" fill="#0000FF"/><rect x="316" y="276" width="1" height="7" fill="#0000FF"/><rect x="316" y="276" width="10" height="1" fill="#0000FF"/><path d="M325.5 261.5 L347.5 261.5 Q351.5 261.5 351.5 266 Q351.5 271.5 347.5 271.5 L325.5 271.5 L327.5 266.5 Z" fill="#FFFFDC" stroke="#3C3C28" stroke-width="1" shape-rendering="geometricPrecision"/><text x="328" y="270.5" font-size="10" font-weight="bold" fill="#2E2E20" textLength="21" lengthAdjust="spacingAndGlyphs">SGL</text><path d="M325.5 271.5 L347.5 271.5 Q351.5 271.5 351.5 276 Q351.5 281.5 347.5 281.5 L325.5 281.5 L327.5 276.5 Z" fill="#FFFFDC" stroke="#3C3C28" stroke-width="1" shape-rendering="geometricPrecision"/><text x="328" y="280.5" font-size="10" font-weight="bold" fill="#2E2E20" textLength="21" lengthAdjust="spacingAndGlyphs">SGL</text><rect x="352" y="266" width="14" height="1" fill="#FF8000"/><rect x="352" y="276" width="14" height="1" fill="#FF8000"/><path d="M365.5 261.5 L385.5 271.5 L365.5 281.5 Z" fill="#FFFFDC" stroke="#3C3C28" stroke-width="1" shape-rendering="geometricPrecision"/><text x="372.5" y="276" font-size="12" font-weight="bold" fill="#333" text-anchor="middle">÷</text><rect x="386" y="271" width="20" height="1" fill="#FF8000"/><rect x="405" y="255" width="32" height="32" fill="#FFFFDC"/><rect x="405" y="255" width="32" height="1" fill="#505046"/><rect x="405" y="286" width="32" height="1" fill="#505046"/><rect x="405" y="255" width="1" height="32" fill="#505046"/><rect x="436" y="255" width="1" height="32" fill="#505046"/><g shape-rendering="crispEdges" fill="#444"><rect x="407" y="259" width="1" height="1"/><rect x="407" y="271" width="1" height="1"/><rect x="409" y="259" width="1" height="1"/><rect x="409" y="271" width="1" height="1"/><rect x="411" y="259" width="1" height="1"/><rect x="411" y="271" width="1" height="1"/><rect x="413" y="259" width="1" height="1"/><rect x="413" y="271" width="1" height="1"/><rect x="415" y="259" width="1" height="1"/><rect x="415" y="271" width="1" height="1"/><rect x="417" y="259" width="1" height="1"/><rect x="417" y="271" width="1" height="1"/><rect x="419" y="259" width="1" height="1"/><rect x="419" y="271" width="1" height="1"/><rect x="421" y="259" width="1" height="1"/><rect x="421" y="271" width="1" height="1"/><rect x="423" y="259" width="1" height="1"/><rect x="423" y="271" width="1" height="1"/><rect x="425" y="259" width="1" height="1"/><rect x="425" y="271" width="1" height="1"/><rect x="427" y="259" width="1" height="1"/><rect x="427" y="271" width="1" height="1"/><rect x="429" y="259" width="1" height="1"/><rect x="429" y="271" width="1" height="1"/><rect x="431" y="259" width="1" height="1"/><rect x="431" y="271" width="1" height="1"/><rect x="433" y="259" width="1" height="1"/><rect x="433" y="271" width="1" height="1"/><rect x="435" y="259" width="1" height="1"/><rect x="435" y="271" width="1" height="1"/><rect x="421" y="257" width="1" height="1"/><rect x="421" y="259" width="1" height="1"/><rect x="421" y="261" width="1" height="1"/><rect x="421" y="263" width="1" height="1"/><rect x="421" y="265" width="1" height="1"/><rect x="421" y="267" width="1" height="1"/><rect x="421" y="269" width="1" height="1"/><rect x="421" y="271" width="1" height="1"/><rect x="421" y="273" width="1" height="1"/><rect x="421" y="275" width="1" height="1"/><rect x="421" y="277" width="1" height="1"/><rect x="421" y="279" width="1" height="1"/></g><g shape-rendering="geometricPrecision"><path d="M407.5 282.5 C412 282.5 414.5 279 416 272 C418 263 419.5 259.5 421.5 259.5 C423.5 259.5 425 263 427 272 C428.5 279 431 282.5 435.5 282.5" stroke="#3A3A30" stroke-width="1.1" fill="none"/><text x="421.5" y="285" font-size="6.5" font-weight="bold" fill="#333" text-anchor="middle" textLength="12" lengthAdjust="spacingAndGlyphs">COS</text></g><rect x="437" y="271" width="6" height="1" fill="#FF8000"/><rect x="442" y="269" width="7" height="9" fill="#FFFFDC"/><rect x="442" y="269" width="7" height="1" fill="#5A5A46"/><rect x="442" y="277" width="7" height="1" fill="#5A5A46"/><rect x="442" y="269" width="1" height="9" fill="#5A5A46"/><rect x="448" y="269" width="1" height="9" fill="#5A5A46"/><rect x="443" y="271" width="1" height="5" fill="#FF8000"/><rect x="444" y="271" width="1" height="1" fill="#FF8000"/><rect x="444" y="275" width="1" height="1" fill="#FF8000"/><rect x="447" y="271" width="1" height="5" fill="#FF8000"/><rect x="446" y="271" width="1" height="1" fill="#FF8000"/><rect x="446" y="275" width="1" height="1" fill="#FF8000"/><rect x="449" y="269" width="7" height="9" fill="#FFFFDC"/><rect x="449" y="269" width="7" height="1" fill="#5A5A46"/><rect x="449" y="277" width="7" height="1" fill="#5A5A46"/><rect x="449" y="269" width="1" height="9" fill="#5A5A46"/><rect x="455" y="269" width="1" height="9" fill="#5A5A46"/><rect x="450" y="271" width="1" height="5" fill="#FF8000"/><rect x="451" y="271" width="1" height="1" fill="#FF8000"/><rect x="451" y="275" width="1" height="1" fill="#FF8000"/><rect x="454" y="271" width="1" height="5" fill="#FF8000"/><rect x="453" y="271" width="1" height="1" fill="#FF8000"/><rect x="453" y="275" width="1" height="1" fill="#FF8000"/><rect x="456" y="269" width="7" height="9" fill="#FFFFDC"/><rect x="456" y="269" width="7" height="1" fill="#5A5A46"/><rect x="456" y="277" width="7" height="1" fill="#5A5A46"/><rect x="456" y="269" width="1" height="9" fill="#5A5A46"/><rect x="462" y="269" width="1" height="9" fill="#5A5A46"/><rect x="457" y="271" width="1" height="5" fill="#FF8000"/><rect x="458" y="271" width="1" height="1" fill="#FF8000"/><rect x="458" y="275" width="1" height="1" fill="#FF8000"/><rect x="461" y="271" width="1" height="5" fill="#FF8000"/><rect x="460" y="271" width="1" height="1" fill="#FF8000"/><rect x="460" y="275" width="1" height="1" fill="#FF8000"/><rect x="463" y="139" width="33" height="1" fill="#FF8000"/><rect x="463" y="142" width="33" height="1" fill="#FF8000"/><text x="499" y="144.5" font-size="12" font-weight="bold" fill="#000" text-anchor="start" textLength="131" lengthAdjust="spacingAndGlyphs">3D [batch_size, Tv, dim]</text><rect x="633" y="139" width="623" height="1" fill="#FF8000"/><rect x="633" y="142" width="620" height="1" fill="#FF8000"/><rect x="1255" y="139" width="1" height="167" fill="#FF8000"/><rect x="1252" y="142" width="1" height="164" fill="#FF8000"/><rect x="463" y="271" width="33" height="1" fill="#FF8000"/><rect x="463" y="274" width="33" height="1" fill="#FF8000"/><text x="499" y="276.5" font-size="12" font-weight="bold" fill="#000" text-anchor="start" textLength="131" lengthAdjust="spacingAndGlyphs">3D [batch_size, Tq, dim]</text><rect x="633" y="271" width="454" height="1" fill="#FF8000"/><rect x="633" y="274" width="451" height="1" fill="#FF8000"/><rect x="1086" y="271" width="1" height="35" fill="#FF8000"/><rect x="1083" y="274" width="1" height="32" fill="#FF8000"/><rect x="1472" y="528" width="37" height="1" fill="#FF8000"/><rect x="1472" y="531" width="37" height="1" fill="#FF8000"/><rect x="62" y="358" width="10" height="2" fill="#0000FF"/><rect x="257" y="358" width="180" height="2" fill="#0000FF"/><rect x="76" y="520" width="8" height="2" fill="#0000FF"/><rect x="268" y="520" width="169" height="2" fill="#0000FF"/><rect x="967" y="529" width="7" height="1" fill="#0000FF"/><path d="M468.5 381.5 L684.5 381.5" fill="none" stroke="#808000" stroke-width="3" stroke-linejoin="miter" stroke-linecap="butt"/><path d="M468.5 381.5 L684.5 381.5" fill="none" stroke="#FFFF00" stroke-width="1" stroke-linejoin="miter" stroke-linecap="butt"/><path d="M468.5 381.5 L684.5 381.5" fill="none" stroke="#000" stroke-width="1" stroke-linejoin="miter" stroke-linecap="butt" stroke-dasharray="2 2" stroke-dashoffset="2"/><path d="M692.5 381.5 L736.5 381.5 L736.5 511.5" fill="none" stroke="#808000" stroke-width="3" stroke-linejoin="miter" stroke-linecap="butt"/><path d="M692.5 381.5 L736.5 381.5 L736.5 511.5" fill="none" stroke="#FFFF00" stroke-width="1" stroke-linejoin="miter" stroke-linecap="butt"/><path d="M692.5 381.5 L736.5 381.5 L736.5 511.5" fill="none" stroke="#000" stroke-width="1" stroke-linejoin="miter" stroke-linecap="butt" stroke-dasharray="2 2" stroke-dashoffset="2"/><path d="M736.5 519.5 L736.5 534.5 L745.5 534.5" fill="none" stroke="#808000" stroke-width="3" stroke-linejoin="miter" stroke-linecap="butt"/><path d="M736.5 519.5 L736.5 534.5 L745.5 534.5" fill="none" stroke="#FFFF00" stroke-width="1" stroke-linejoin="miter" stroke-linecap="butt"/><path d="M736.5 519.5 L736.5 534.5 L745.5 534.5" fill="none" stroke="#000" stroke-width="1" stroke-linejoin="miter" stroke-linecap="butt" stroke-dasharray="2 2" stroke-dashoffset="2"/><path d="M468.5 543.5 L745.5 543.5" fill="none" stroke="#808000" stroke-width="3" stroke-linejoin="miter" stroke-linecap="butt"/><path d="M468.5 543.5 L745.5 543.5" fill="none" stroke="#FFFF00" stroke-width="1" stroke-linejoin="miter" stroke-linecap="butt"/><path d="M468.5 543.5 L745.5 543.5" fill="none" stroke="#000" stroke-width="1" stroke-linejoin="miter" stroke-linecap="butt" stroke-dasharray="2 2" stroke-dashoffset="2"/><path d="M777.5 539.5 L1031.5 539.5 L1031.5 519.5" fill="none" stroke="#808000" stroke-width="3" stroke-linejoin="miter" stroke-linecap="butt"/><path d="M777.5 539.5 L1031.5 539.5 L1031.5 519.5" fill="none" stroke="#FFFF00" stroke-width="1" stroke-linejoin="miter" stroke-linecap="butt"/><path d="M777.5 539.5 L1031.5 539.5 L1031.5 519.5" fill="none" stroke="#000" stroke-width="1" stroke-linejoin="miter" stroke-linecap="butt" stroke-dasharray="2 2" stroke-dashoffset="2"/><path d="M1031.5 511.5 L1031.5 334.5 L1314.5 334.5 L1314.5 511.5" fill="none" stroke="#808000" stroke-width="3" stroke-linejoin="miter" stroke-linecap="butt"/><path d="M1031.5 511.5 L1031.5 334.5 L1314.5 334.5 L1314.5 511.5" fill="none" stroke="#FFFF00" stroke-width="1" stroke-linejoin="miter" stroke-linecap="butt"/><path d="M1031.5 511.5 L1031.5 334.5 L1314.5 334.5 L1314.5 511.5" fill="none" stroke="#000" stroke-width="1" stroke-linejoin="miter" stroke-linecap="butt" stroke-dasharray="2 2" stroke-dashoffset="2"/><path d="M1314.5 519.5 L1314.5 539.5 L1440.5 539.5" fill="none" stroke="#808000" stroke-width="3" stroke-linejoin="miter" stroke-linecap="butt"/><path d="M1314.5 519.5 L1314.5 539.5 L1440.5 539.5" fill="none" stroke="#FFFF00" stroke-width="1" stroke-linejoin="miter" stroke-linecap="butt"/><path d="M1314.5 519.5 L1314.5 539.5 L1440.5 539.5" fill="none" stroke="#000" stroke-width="1" stroke-linejoin="miter" stroke-linecap="butt" stroke-dasharray="2 2" stroke-dashoffset="2"/><path d="M567.5 331.5 L589.5 331.5 L589.5 353.5" fill="none" stroke="#FF00FF" stroke-width="3" stroke-linejoin="miter" stroke-linecap="butt"/><path d="M567.5 331.5 L589.5 331.5 L589.5 353.5" fill="none" stroke="#fff" stroke-width="1" stroke-linejoin="miter" stroke-linecap="butt" stroke-dasharray="3 3" stroke-dashoffset="1"/><path d="M589.5 361.5 L589.5 365.5 L612.5 365.5" fill="none" stroke="#FF00FF" stroke-width="3" stroke-linejoin="miter" stroke-linecap="butt"/><path d="M589.5 361.5 L589.5 365.5 L612.5 365.5" fill="none" stroke="#fff" stroke-width="1" stroke-linejoin="miter" stroke-linecap="butt" stroke-dasharray="3 3" stroke-dashoffset="1"/><path d="M571.5 490.5 L596.5 490.5 L596.5 515.5" fill="none" stroke="#FF00FF" stroke-width="3" stroke-linejoin="miter" stroke-linecap="butt"/><path d="M571.5 490.5 L596.5 490.5 L596.5 515.5" fill="none" stroke="#fff" stroke-width="1" stroke-linejoin="miter" stroke-linecap="butt" stroke-dasharray="3 3" stroke-dashoffset="1"/><path d="M596.5 523.5 L596.5 527.5 L612.5 527.5" fill="none" stroke="#FF00FF" stroke-width="3" stroke-linejoin="miter" stroke-linecap="butt"/><path d="M596.5 523.5 L596.5 527.5 L612.5 527.5" fill="none" stroke="#fff" stroke-width="1" stroke-linejoin="miter" stroke-linecap="butt" stroke-dasharray="3 3" stroke-dashoffset="1"/><path d="M822.5 523.5 L831.5 523.5" fill="none" stroke="#FF00FF" stroke-width="3" stroke-linejoin="miter" stroke-linecap="butt"/><rect x="824" y="523" width="3" height="1" fill="#fff"/><rect x="828" y="523" width="3" height="1" fill="#fff"/><path d="M1105 310 L1348 310 L1348 511" fill="none" stroke="#FF00FF" stroke-width="4" stroke-linejoin="miter" stroke-linecap="butt"/><path d="M1105 309.5 H1346" stroke="#fff" stroke-width="1" stroke-dasharray="2 2" stroke-dashoffset="0"/><path d="M1105 310.5 H1346" stroke="#fff" stroke-width="1" stroke-dasharray="2 2" stroke-dashoffset="1"/><path d="M1348.5 312 V511" stroke="#fff" stroke-width="1" stroke-dasharray="2 2" stroke-dashoffset="0"/><path d="M1347.5 312 V511" stroke="#fff" stroke-width="1" stroke-dasharray="2 2" stroke-dashoffset="1"/><path d="M429 372.5 H431 V373.5 H433 V372.5 H435 V373.5 H436" fill="none" stroke="#FF00FF" stroke-width="1"/><path d="M576 372.5 H578 V373.5 H580 V372.5 H582 V373.5 H584 V372.5 H586 V373.5 H588 V372.5 H590 V373.5 H592 V372.5 H594 V373.5 H596 V372.5 H598 V373.5 H600 V372.5 H602 V373.5 H604 V372.5 H606 V373.5 H608 V372.5 H610 V373.5 H612" fill="none" stroke="#FF00FF" stroke-width="1"/><path d="M427 534.5 H429 V535.5 H431 V534.5 H433 V535.5 H435 V534.5 H436" fill="none" stroke="#FF00FF" stroke-width="1"/><path d="M578 534.5 H580 V535.5 H582 V534.5 H584 V535.5 H586 V534.5 H588 V535.5 H590 V534.5 H592 V535.5 H594 V534.5 H596 V535.5 H598 V534.5 H600 V535.5 H602 V534.5 H604 V535.5 H606 V534.5 H608 V535.5 H610 V534.5 H612" fill="none" stroke="#FF00FF" stroke-width="1"/><path d="M1066 317.5 H1068 V318.5 H1070 V317.5 H1072 V318.5 H1073" fill="none" stroke="#FF00FF" stroke-width="1"/><path d="M1234 317.5 H1236 V318.5 H1238 V317.5 H1240 V318.5 H1242" fill="none" stroke="#FF00FF" stroke-width="1"/><path d="M468.5 357.5 L688.5 357.5 L688.5 511.5 L695.5 511.5" fill="none" stroke="#464646" stroke-width="5" stroke-linejoin="miter" stroke-linecap="butt"/><path d="M468.5 357.5 L688.5 357.5 L688.5 511.5 L695.5 511.5" fill="none" stroke="#F2F2F2" stroke-width="1" stroke-linejoin="miter" stroke-linecap="butt"/><path d="M468.5 519.5 L695.5 519.5" fill="none" stroke="#464646" stroke-width="5" stroke-linejoin="miter" stroke-linecap="butt"/><path d="M468.5 519.5 L695.5 519.5" fill="none" stroke="#F2F2F2" stroke-width="1" stroke-linejoin="miter" stroke-linecap="butt"/><path d="M726.5 515.5 L1440.5 515.5" fill="none" stroke="#464646" stroke-width="5" stroke-linejoin="miter" stroke-linecap="butt"/><path d="M726.5 515.5 L1440.5 515.5" fill="none" stroke="#F2F2F2" stroke-width="1" stroke-linejoin="miter" stroke-linecap="butt"/><rect x="436" y="353" width="32" height="32" fill="#404040"/><g shape-rendering="geometricPrecision" fill="#fff"><circle cx="451.5" cy="359.8" r="6"/><circle cx="444" cy="365.3" r="5.6"/><circle cx="460.3" cy="365.3" r="5.6"/><rect x="438.5" y="361" width="27.3" height="10" rx="5"/><path d="M447.5 377.5 L452 371.5 L456.5 377.5 L453.7 377.5 L453.7 383 L450.3 383 L450.3 377.5 Z"/></g><text x="441" y="367" font-size="9.6" font-weight="bold" fill="#404040" textLength="21.8" lengthAdjust="spacingAndGlyphs">DATA</text><rect x="436" y="515" width="32" height="32" fill="#404040"/><g shape-rendering="geometricPrecision" fill="#fff"><circle cx="451.5" cy="521.8" r="6"/><circle cx="444" cy="527.3" r="5.6"/><circle cx="460.3" cy="527.3" r="5.6"/><rect x="438.5" y="523" width="27.3" height="10" rx="5"/><path d="M447.5 539.5 L452 533.5 L456.5 539.5 L453.7 539.5 L453.7 545 L450.3 545 L450.3 539.5 Z"/></g><text x="441" y="529" font-size="9.6" font-weight="bold" fill="#404040" textLength="21.8" lengthAdjust="spacingAndGlyphs">DATA</text><rect x="1073" y="306" width="32" height="32" fill="#0A90FF"/><g shape-rendering="geometricPrecision" fill="#fff"><circle cx="1088.5" cy="312.8" r="6"/><circle cx="1081" cy="318.3" r="5.6"/><circle cx="1097.3" cy="318.3" r="5.6"/><rect x="1075.5" y="314" width="27.3" height="10" rx="5"/><path d="M1084.5 330.5 L1089 324.5 L1093.5 330.5 L1090.7 330.5 L1090.7 336 L1087.3 336 L1087.3 330.5 Z"/></g><text x="1078" y="320" font-size="9.6" font-weight="bold" fill="#0A90FF" textLength="21.8" lengthAdjust="spacingAndGlyphs">DATA</text><rect x="1242" y="306" width="32" height="32" fill="#0A90FF"/><g shape-rendering="geometricPrecision" fill="#fff"><circle cx="1257.5" cy="312.8" r="6"/><circle cx="1250" cy="318.3" r="5.6"/><circle cx="1266.3" cy="318.3" r="5.6"/><rect x="1244.5" y="314" width="27.3" height="10" rx="5"/><path d="M1253.5 330.5 L1258 324.5 L1262.5 330.5 L1259.7 330.5 L1259.7 336 L1256.3 336 L1256.3 330.5 Z"/></g><text x="1247" y="320" font-size="9.6" font-weight="bold" fill="#0A90FF" textLength="21.8" lengthAdjust="spacingAndGlyphs">DATA</text><rect x="529" y="312" width="38" height="38" fill="#fff"/><rect x="529" y="312" width="38" height="1" fill="#FF00FF"/><rect x="529" y="349" width="38" height="1" fill="#FF00FF"/><rect x="529" y="312" width="1" height="38" fill="#FF00FF"/><rect x="566" y="312" width="1" height="38" fill="#FF00FF"/><rect x="531" y="314" width="34" height="34" fill="#fff"/><rect x="531" y="314" width="34" height="1" fill="#FF00FF"/><rect x="531" y="347" width="34" height="1" fill="#FF00FF"/><rect x="531" y="314" width="1" height="34" fill="#FF00FF"/><rect x="564" y="314" width="1" height="34" fill="#FF00FF"/><rect x="533" y="316" width="30" height="30" fill="#404040"/><path d="M529 312 L538 312 L529 321 Z" fill="#404040"/><path d="M538.5 312.5 L529.5 321.5" stroke="#fff" stroke-width="1.2" shape-rendering="geometricPrecision"/><g shape-rendering="geometricPrecision"><line x1="542" y1="326" x2="559" y2="343" stroke="#fff" stroke-width="4.5" stroke-linecap="round"/><circle cx="541" cy="325" r="5.8" fill="#fff"/><path d="M537 318 L543 324 L540 327 L534 321 Z" fill="#404040"/><line x1="544" y1="328" x2="558" y2="342" stroke="#ccc" stroke-width="0.8"/><circle cx="557.5" cy="341.5" r="0.9" fill="#999"/></g><rect x="540" y="342" width="18" height="8" fill="#fff"/><rect x="540" y="342" width="18" height="1" fill="#FF00FF"/><rect x="540" y="349" width="18" height="1" fill="#FF00FF"/><rect x="540" y="342" width="1" height="8" fill="#FF00FF"/><rect x="557" y="342" width="1" height="8" fill="#FF00FF"/><rect x="542" y="344" width="5" height="3" fill="#fff"/><rect x="542" y="344" width="5" height="1" fill="#FF00FF"/><rect x="542" y="346" width="5" height="1" fill="#FF00FF"/><rect x="542" y="344" width="1" height="3" fill="#FF00FF"/><rect x="546" y="344" width="1" height="3" fill="#FF00FF"/><rect x="544" y="346" width="1" height="3" fill="#FF00FF"/><rect x="548" y="344" width="3" height="4" fill="#fff"/><rect x="548" y="344" width="3" height="1" fill="#FF00FF"/><rect x="548" y="347" width="3" height="1" fill="#FF00FF"/><rect x="548" y="344" width="1" height="4" fill="#FF00FF"/><rect x="550" y="344" width="1" height="4" fill="#FF00FF"/><rect x="552" y="345" width="3" height="3" fill="#fff"/><rect x="552" y="345" width="3" height="1" fill="#FF00FF"/><rect x="552" y="347" width="3" height="1" fill="#FF00FF"/><rect x="552" y="345" width="1" height="3" fill="#FF00FF"/><rect x="554" y="345" width="1" height="3" fill="#FF00FF"/><rect x="553" y="344" width="1" height="1" fill="#FF00FF"/><rect x="533" y="471" width="38" height="38" fill="#fff"/><rect x="533" y="471" width="38" height="1" fill="#FF00FF"/><rect x="533" y="508" width="38" height="1" fill="#FF00FF"/><rect x="533" y="471" width="1" height="38" fill="#FF00FF"/><rect x="570" y="471" width="1" height="38" fill="#FF00FF"/><rect x="535" y="473" width="34" height="34" fill="#fff"/><rect x="535" y="473" width="34" height="1" fill="#FF00FF"/><rect x="535" y="506" width="34" height="1" fill="#FF00FF"/><rect x="535" y="473" width="1" height="34" fill="#FF00FF"/><rect x="568" y="473" width="1" height="34" fill="#FF00FF"/><rect x="537" y="475" width="30" height="30" fill="#404040"/><path d="M533 471 L542 471 L533 480 Z" fill="#404040"/><path d="M542.5 471.5 L533.5 480.5" stroke="#fff" stroke-width="1.2" shape-rendering="geometricPrecision"/><g shape-rendering="geometricPrecision"><line x1="546" y1="485" x2="563" y2="502" stroke="#fff" stroke-width="4.5" stroke-linecap="round"/><circle cx="545" cy="484" r="5.8" fill="#fff"/><path d="M541 477 L547 483 L544 486 L538 480 Z" fill="#404040"/><line x1="548" y1="487" x2="562" y2="501" stroke="#ccc" stroke-width="0.8"/><circle cx="561.5" cy="500.5" r="0.9" fill="#999"/></g><rect x="544" y="501" width="18" height="8" fill="#fff"/><rect x="544" y="501" width="18" height="1" fill="#FF00FF"/><rect x="544" y="508" width="18" height="1" fill="#FF00FF"/><rect x="544" y="501" width="1" height="8" fill="#FF00FF"/><rect x="561" y="501" width="1" height="8" fill="#FF00FF"/><rect x="546" y="503" width="5" height="3" fill="#fff"/><rect x="546" y="503" width="5" height="1" fill="#FF00FF"/><rect x="546" y="505" width="5" height="1" fill="#FF00FF"/><rect x="546" y="503" width="1" height="3" fill="#FF00FF"/><rect x="550" y="503" width="1" height="3" fill="#FF00FF"/><rect x="548" y="505" width="1" height="3" fill="#FF00FF"/><rect x="552" y="503" width="3" height="4" fill="#fff"/><rect x="552" y="503" width="3" height="1" fill="#FF00FF"/><rect x="552" y="506" width="3" height="1" fill="#FF00FF"/><rect x="552" y="503" width="1" height="4" fill="#FF00FF"/><rect x="554" y="503" width="1" height="4" fill="#FF00FF"/><rect x="556" y="504" width="3" height="3" fill="#fff"/><rect x="556" y="504" width="3" height="1" fill="#FF00FF"/><rect x="556" y="506" width="3" height="1" fill="#FF00FF"/><rect x="556" y="504" width="1" height="3" fill="#FF00FF"/><rect x="558" y="504" width="1" height="3" fill="#FF00FF"/><rect x="557" y="503" width="1" height="1" fill="#FF00FF"/><rect x="784" y="504" width="38" height="38" fill="#fff"/><rect x="784" y="504" width="38" height="1" fill="#FF00FF"/><rect x="784" y="541" width="38" height="1" fill="#FF00FF"/><rect x="784" y="504" width="1" height="38" fill="#FF00FF"/><rect x="821" y="504" width="1" height="38" fill="#FF00FF"/><rect x="786" y="506" width="34" height="34" fill="#fff"/><rect x="786" y="506" width="34" height="1" fill="#FF00FF"/><rect x="786" y="539" width="34" height="1" fill="#FF00FF"/><rect x="786" y="506" width="1" height="34" fill="#FF00FF"/><rect x="819" y="506" width="1" height="34" fill="#FF00FF"/><rect x="788" y="508" width="30" height="30" fill="#404040"/><path d="M784 504 L793 504 L784 513 Z" fill="#404040"/><path d="M793.5 504.5 L784.5 513.5" stroke="#fff" stroke-width="1.2" shape-rendering="geometricPrecision"/><g shape-rendering="geometricPrecision"><line x1="797" y1="518" x2="814" y2="535" stroke="#fff" stroke-width="4.5" stroke-linecap="round"/><circle cx="796" cy="517" r="5.8" fill="#fff"/><path d="M792 510 L798 516 L795 519 L789 513 Z" fill="#404040"/><line x1="799" y1="520" x2="813" y2="534" stroke="#ccc" stroke-width="0.8"/><circle cx="812.5" cy="533.5" r="0.9" fill="#999"/></g><rect x="795" y="534" width="18" height="8" fill="#fff"/><rect x="795" y="534" width="18" height="1" fill="#FF00FF"/><rect x="795" y="541" width="18" height="1" fill="#FF00FF"/><rect x="795" y="534" width="1" height="8" fill="#FF00FF"/><rect x="812" y="534" width="1" height="8" fill="#FF00FF"/><rect x="797" y="536" width="5" height="3" fill="#fff"/><rect x="797" y="536" width="5" height="1" fill="#FF00FF"/><rect x="797" y="538" width="5" height="1" fill="#FF00FF"/><rect x="797" y="536" width="1" height="3" fill="#FF00FF"/><rect x="801" y="536" width="1" height="3" fill="#FF00FF"/><rect x="799" y="538" width="1" height="3" fill="#FF00FF"/><rect x="803" y="536" width="3" height="4" fill="#fff"/><rect x="803" y="536" width="3" height="1" fill="#FF00FF"/><rect x="803" y="539" width="3" height="1" fill="#FF00FF"/><rect x="803" y="536" width="1" height="4" fill="#FF00FF"/><rect x="805" y="536" width="1" height="4" fill="#FF00FF"/><rect x="807" y="537" width="3" height="3" fill="#fff"/><rect x="807" y="537" width="3" height="1" fill="#FF00FF"/><rect x="807" y="539" width="3" height="1" fill="#FF00FF"/><rect x="807" y="537" width="1" height="3" fill="#FF00FF"/><rect x="809" y="537" width="1" height="3" fill="#FF00FF"/><rect x="808" y="536" width="1" height="1" fill="#FF00FF"/><rect x="612" y="353" width="32" height="32" fill="#0A90FF"/><rect x="618" y="358" width="20" height="22" rx="1.5" fill="none" stroke="#fff" stroke-width="2" shape-rendering="geometricPrecision"/><rect x="621" y="362" width="14" height="14" fill="#fff"/><rect x="612" y="515" width="32" height="32" fill="#0A90FF"/><rect x="618" y="520" width="20" height="22" rx="1.5" fill="none" stroke="#fff" stroke-width="2" shape-rendering="geometricPrecision"/><rect x="621" y="524" width="7" height="7" fill="#D8ECFF"/><rect x="629" y="524" width="7" height="7" fill="#000"/><rect x="621" y="532" width="7" height="7" fill="#D8ECFF"/><rect x="629" y="532" width="7" height="7" fill="#D8ECFF"/><rect x="357" y="364" width="72" height="19" fill="#FF00FF"/><rect x="361" y="366" width="66" height="15" fill="#fff"/><text x="362" y="378" font-size="13" font-weight="normal" fill="#000" text-anchor="start" textLength="63" lengthAdjust="spacingAndGlyphs">query_input</text><rect x="480" y="361" width="96" height="19" fill="#FF00FF"/><rect x="484" y="363" width="90" height="15" fill="#fff"/><text x="485" y="375" font-size="13" font-weight="normal" fill="#000" text-anchor="start" textLength="86" lengthAdjust="spacingAndGlyphs">average_pooling</text><rect x="354" y="526" width="73" height="19" fill="#FF00FF"/><rect x="358" y="528" width="67" height="15" fill="#fff"/><text x="359" y="540" font-size="13" font-weight="normal" fill="#000" text-anchor="start" textLength="63" lengthAdjust="spacingAndGlyphs">value_ input</text><rect x="500" y="526" width="78" height="19" fill="#FF00FF"/><rect x="504" y="528" width="72" height="15" fill="#fff"/><text x="505" y="540" font-size="13" font-weight="normal" fill="#000" text-anchor="start" textLength="68" lengthAdjust="spacingAndGlyphs">max_pooling</text><rect x="994" y="309" width="72" height="19" fill="#FF00FF"/><rect x="998" y="311" width="66" height="15" fill="#fff"/><text x="999" y="323" font-size="13" font-weight="normal" fill="#000" text-anchor="start" textLength="63" lengthAdjust="spacingAndGlyphs">query_input</text><rect x="1161" y="308" width="73" height="19" fill="#FF00FF"/><rect x="1165" y="310" width="67" height="15" fill="#fff"/><text x="1166" y="322" font-size="13" font-weight="normal" fill="#000" text-anchor="start" textLength="63" lengthAdjust="spacingAndGlyphs">value_ input</text><rect x="431" y="387" width="46" height="19" fill="#fff"/><rect x="431" y="387" width="46" height="1" fill="#0000FF"/><rect x="431" y="405" width="46" height="1" fill="#0000FF"/><rect x="431" y="387" width="1" height="19" fill="#0000FF"/><rect x="476" y="387" width="1" height="19" fill="#0000FF"/><rect x="429" y="385" width="46" height="19" fill="#fff"/><rect x="429" y="385" width="46" height="1" fill="#0000FF"/><rect x="429" y="403" width="46" height="1" fill="#0000FF"/><rect x="429" y="385" width="1" height="19" fill="#0000FF"/><rect x="474" y="385" width="1" height="19" fill="#0000FF"/><text x="432" y="399" font-size="13" font-weight="normal" fill="#000" text-anchor="start" textLength="30" lengthAdjust="spacingAndGlyphs">Input</text><path d="M465 392.0 L472 392.0 L468.5 396.0 Z" fill="#0000FF" shape-rendering="geometricPrecision"/><rect x="431" y="550" width="46" height="18" fill="#fff"/><rect x="431" y="550" width="46" height="1" fill="#0000FF"/><rect x="431" y="567" width="46" height="1" fill="#0000FF"/><rect x="431" y="550" width="1" height="18" fill="#0000FF"/><rect x="476" y="550" width="1" height="18" fill="#0000FF"/><rect x="429" y="548" width="46" height="18" fill="#fff"/><rect x="429" y="548" width="46" height="1" fill="#0000FF"/><rect x="429" y="565" width="46" height="1" fill="#0000FF"/><rect x="429" y="548" width="1" height="18" fill="#0000FF"/><rect x="474" y="548" width="1" height="18" fill="#0000FF"/><text x="432" y="561" font-size="13" font-weight="normal" fill="#000" text-anchor="start" textLength="30" lengthAdjust="spacingAndGlyphs">Input</text><path d="M465 554.5 L472 554.5 L468.5 558.5 Z" fill="#0000FF" shape-rendering="geometricPrecision"/><rect x="591" y="387" width="77" height="19" fill="#fff"/><rect x="591" y="387" width="77" height="1" fill="#0000FF"/><rect x="591" y="405" width="77" height="1" fill="#0000FF"/><rect x="591" y="387" width="1" height="19" fill="#0000FF"/><rect x="667" y="387" width="1" height="19" fill="#0000FF"/><rect x="589" y="385" width="77" height="19" fill="#fff"/><rect x="589" y="385" width="77" height="1" fill="#0000FF"/><rect x="589" y="403" width="77" height="1" fill="#0000FF"/><rect x="589" y="385" width="1" height="19" fill="#0000FF"/><rect x="665" y="385" width="1" height="19" fill="#0000FF"/><text x="592" y="399" font-size="13" font-weight="normal" fill="#000" text-anchor="start" textLength="58.5" lengthAdjust="spacingAndGlyphs">AvgPool1D</text><path d="M656 392.0 L663 392.0 L659.5 396.0 Z" fill="#0000FF" shape-rendering="geometricPrecision"/><rect x="590" y="550" width="78" height="18" fill="#fff"/><rect x="590" y="550" width="78" height="1" fill="#0000FF"/><rect x="590" y="567" width="78" height="1" fill="#0000FF"/><rect x="590" y="550" width="1" height="18" fill="#0000FF"/><rect x="667" y="550" width="1" height="18" fill="#0000FF"/><rect x="588" y="548" width="78" height="18" fill="#fff"/><rect x="588" y="548" width="78" height="1" fill="#0000FF"/><rect x="588" y="565" width="78" height="1" fill="#0000FF"/><rect x="588" y="548" width="1" height="18" fill="#0000FF"/><rect x="665" y="548" width="1" height="18" fill="#0000FF"/><text x="591" y="561" font-size="13" font-weight="normal" fill="#000" text-anchor="start" textLength="60" lengthAdjust="spacingAndGlyphs">MaxPool1D</text><path d="M656 554.5 L663 554.5 L659.5 558.5 Z" fill="#0000FF" shape-rendering="geometricPrecision"/><rect x="787" y="545" width="124" height="19" fill="#fff"/><rect x="787" y="545" width="124" height="1" fill="#0000FF"/><rect x="787" y="563" width="124" height="1" fill="#0000FF"/><rect x="787" y="545" width="1" height="19" fill="#0000FF"/><rect x="910" y="545" width="1" height="19" fill="#0000FF"/><rect x="785" y="543" width="124" height="19" fill="#fff"/><rect x="785" y="543" width="124" height="1" fill="#0000FF"/><rect x="785" y="561" width="124" height="1" fill="#0000FF"/><rect x="785" y="543" width="1" height="19" fill="#0000FF"/><rect x="908" y="543" width="1" height="19" fill="#0000FF"/><text x="788.5" y="557" font-size="13" font-weight="normal" fill="#000" text-anchor="start" textLength="105.5" lengthAdjust="spacingAndGlyphs">MultiHeadAttention</text><path d="M899 550.0 L906 550.0 L902.5 554.0 Z" fill="#0000FF" shape-rendering="geometricPrecision"/><rect x="955" y="546" width="69" height="19" fill="#fff"/><rect x="955" y="546" width="69" height="1" fill="#0000FF"/><rect x="955" y="564" width="69" height="1" fill="#0000FF"/><rect x="955" y="546" width="1" height="19" fill="#0000FF"/><rect x="1023" y="546" width="1" height="19" fill="#0000FF"/><rect x="953" y="544" width="69" height="19" fill="#fff"/><rect x="953" y="544" width="69" height="1" fill="#0000FF"/><rect x="953" y="562" width="69" height="1" fill="#0000FF"/><rect x="953" y="544" width="1" height="19" fill="#0000FF"/><rect x="1021" y="544" width="1" height="19" fill="#0000FF"/><text x="956" y="558" font-size="13" font-weight="normal" fill="#000" text-anchor="start" textLength="49" lengthAdjust="spacingAndGlyphs">Summary</text><path d="M1012 551.0 L1019 551.0 L1015.5 555.0 Z" fill="#0000FF" shape-rendering="geometricPrecision"/><rect x="1041" y="341" width="98" height="34" fill="#fff"/><rect x="1041" y="341" width="98" height="1" fill="#0000FF"/><rect x="1041" y="374" width="98" height="1" fill="#0000FF"/><rect x="1041" y="341" width="1" height="34" fill="#0000FF"/><rect x="1138" y="341" width="1" height="34" fill="#0000FF"/><rect x="1039" y="339" width="98" height="34" fill="#fff"/><rect x="1039" y="339" width="98" height="1" fill="#0000FF"/><rect x="1039" y="372" width="98" height="1" fill="#0000FF"/><rect x="1039" y="339" width="1" height="34" fill="#0000FF"/><rect x="1136" y="339" width="1" height="34" fill="#0000FF"/><text x="1042" y="353" font-size="13" font-weight="normal" fill="#000" text-anchor="start" textLength="80" lengthAdjust="spacingAndGlyphs">Add Input Data</text><text x="1050.5" y="368" font-size="13" font-weight="normal" fill="#000" text-anchor="start" textLength="63.5" lengthAdjust="spacingAndGlyphs">3D by name</text><path d="M1127 354.0 L1134 354.0 L1130.5 358.0 Z" fill="#0000FF" shape-rendering="geometricPrecision"/><rect x="1210" y="341" width="99" height="34" fill="#fff"/><rect x="1210" y="341" width="99" height="1" fill="#0000FF"/><rect x="1210" y="374" width="99" height="1" fill="#0000FF"/><rect x="1210" y="341" width="1" height="34" fill="#0000FF"/><rect x="1308" y="341" width="1" height="34" fill="#0000FF"/><rect x="1208" y="339" width="99" height="34" fill="#fff"/><rect x="1208" y="339" width="99" height="1" fill="#0000FF"/><rect x="1208" y="372" width="99" height="1" fill="#0000FF"/><rect x="1208" y="339" width="1" height="34" fill="#0000FF"/><rect x="1306" y="339" width="1" height="34" fill="#0000FF"/><text x="1211" y="353" font-size="13" font-weight="normal" fill="#000" text-anchor="start" textLength="80" lengthAdjust="spacingAndGlyphs">Add Input Data</text><text x="1219.5" y="368" font-size="13" font-weight="normal" fill="#000" text-anchor="start" textLength="63.5" lengthAdjust="spacingAndGlyphs">3D by name</text><path d="M1297 354.0 L1304 354.0 L1300.5 358.0 Z" fill="#0000FF" shape-rendering="geometricPrecision"/><rect x="1321" y="546" width="64" height="34" fill="#fff"/><rect x="1321" y="546" width="64" height="1" fill="#0000FF"/><rect x="1321" y="579" width="64" height="1" fill="#0000FF"/><rect x="1321" y="546" width="1" height="34" fill="#0000FF"/><rect x="1384" y="546" width="1" height="34" fill="#0000FF"/><rect x="1319" y="544" width="64" height="34" fill="#fff"/><rect x="1319" y="544" width="64" height="1" fill="#0000FF"/><rect x="1319" y="577" width="64" height="1" fill="#0000FF"/><rect x="1319" y="544" width="1" height="34" fill="#0000FF"/><rect x="1382" y="544" width="1" height="34" fill="#0000FF"/><text x="1322" y="558" font-size="13" font-weight="normal" fill="#000" text-anchor="start" textLength="44" lengthAdjust="spacingAndGlyphs">Forward</text><text x="1322" y="573" font-size="13" font-weight="normal" fill="#000" text-anchor="start" textLength="46" lengthAdjust="spacingAndGlyphs">by name</text><path d="M1373 559.0 L1380 559.0 L1376.5 563.0 Z" fill="#0000FF" shape-rendering="geometricPrecision"/><rect x="1413" y="545" width="89" height="19" fill="#fff"/><rect x="1413" y="545" width="89" height="1" fill="#0000FF"/><rect x="1413" y="563" width="89" height="1" fill="#0000FF"/><rect x="1413" y="545" width="1" height="19" fill="#0000FF"/><rect x="1501" y="545" width="1" height="19" fill="#0000FF"/><rect x="1411" y="543" width="89" height="19" fill="#fff"/><rect x="1411" y="543" width="89" height="1" fill="#0000FF"/><rect x="1411" y="561" width="89" height="1" fill="#0000FF"/><rect x="1411" y="543" width="1" height="19" fill="#0000FF"/><rect x="1499" y="543" width="1" height="19" fill="#0000FF"/><text x="1414" y="557" font-size="13" font-weight="normal" fill="#000" text-anchor="start" textLength="71" lengthAdjust="spacingAndGlyphs">Prediction 3D</text><path d="M1490 550.0 L1497 550.0 L1493.5 554.0 Z" fill="#0000FF" shape-rendering="geometricPrecision"/><rect x="926" y="520" width="41" height="19" fill="#fff"/><rect x="926" y="520" width="41" height="2" fill="#0000FF"/><rect x="926" y="537" width="41" height="2" fill="#0000FF"/><rect x="926" y="520" width="2" height="19" fill="#0000FF"/><rect x="965" y="520" width="2" height="19" fill="#0000FF"/><path d="M929 529.5 L932 526.5 L932 532.5 Z M933 526.5 L936 529.5 L933 532.5 Z" fill="#0000FF" shape-rendering="geometricPrecision"/><text x="938" y="534" font-size="13" font-weight="normal" fill="#000" text-anchor="start" textLength="14" lengthAdjust="spacingAndGlyphs">txt</text><path d="M957 527 L964 527 L960.5 531 Z" fill="#0000FF" shape-rendering="geometricPrecision"/><rect x="831" y="511" width="32" height="32" fill="#99C866"/><rect x="835.5" y="515.5" width="14" height="10" rx="2" fill="#fff" stroke="#E8DFA8" stroke-width="1" shape-rendering="geometricPrecision"/><path d="M838.5 526 V532 M848.5 526 V532 M857.5 515 V532" stroke="#fff" stroke-width="1"/><rect x="832" y="532" width="9" height="10" fill="#fff"/><text x="836.5" y="540.5" font-size="10" font-weight="bold" fill="#8CC05A" text-anchor="middle" textLength="7" lengthAdjust="spacingAndGlyphs">Q</text><rect x="842" y="532" width="9" height="10" fill="#fff"/><text x="846.5" y="540.5" font-size="10" font-weight="bold" fill="#8CC05A" text-anchor="middle" textLength="7" lengthAdjust="spacingAndGlyphs">K</text><rect x="852" y="532" width="9" height="10" fill="#fff"/><text x="856.5" y="540.5" font-size="10" font-weight="bold" fill="#8CC05A" text-anchor="middle" textLength="7" lengthAdjust="spacingAndGlyphs">V</text><rect x="973" y="511" width="32" height="32" fill="#404040"/><g shape-rendering="geometricPrecision" fill="none" stroke="#D0D0D0" stroke-width="1.4"><rect x="978.5" y="515.5" width="18" height="22"/><path d="M997 518.5 H999.5 V540.5 H982.5 V538"/><path d="M981 530 H994 M981 533.5 H994" stroke-width="1.6"/></g><g shape-rendering="geometricPrecision" fill="#404040" stroke="#F4F4F4" stroke-width="1.8"><circle cx="988.5" cy="521.5" r="5"/><path d="M992.5 525.5 L999.5 532.5" stroke-width="2"/><path d="M986 523 Q987.5 519 988.5 521.5 Q989.5 524 991 520" stroke-width="0.9" fill="none"/></g><rect x="1336" y="511" width="32" height="32" rx="2" fill="#404040" shape-rendering="geometricPrecision"/><g shape-rendering="geometricPrecision"><path d="M1343.5 535.5 Q1336.5 527 1343 518.5" fill="none" stroke="#fff" stroke-width="2.3"/><path d="M1360.5 518.5 Q1367.5 527 1361 535.5" fill="none" stroke="#fff" stroke-width="2.3"/><path d="M1340.5 517 L1347 515.5 L1345.5 521.5 Z" fill="#fff"/><path d="M1363.5 537 L1357 538.5 L1358.5 532.5 Z" fill="#fff"/><g fill="#fff"><rect x="1350.3" y="518.3" width="3.4" height="4" transform="rotate(0 1352 527)"/><rect x="1350.3" y="518.3" width="3.4" height="4" transform="rotate(45 1352 527)"/><rect x="1350.3" y="518.3" width="3.4" height="4" transform="rotate(90 1352 527)"/><rect x="1350.3" y="518.3" width="3.4" height="4" transform="rotate(135 1352 527)"/><rect x="1350.3" y="518.3" width="3.4" height="4" transform="rotate(180 1352 527)"/><rect x="1350.3" y="518.3" width="3.4" height="4" transform="rotate(225 1352 527)"/><rect x="1350.3" y="518.3" width="3.4" height="4" transform="rotate(270 1352 527)"/><rect x="1350.3" y="518.3" width="3.4" height="4" transform="rotate(315 1352 527)"/></g><circle cx="1352" cy="527" r="4.3" fill="none" stroke="#fff" stroke-width="3.2"/></g><rect x="1440" y="510" width="32" height="32" fill="#0A90FF"/><g shape-rendering="geometricPrecision" fill="#F4F8FF" stroke="#fff" stroke-width="1.8" stroke-linejoin="round"><path d="M1444 525 H1455 V528.5 Q1455 533 1450 533 H1449 Q1444 533 1444 528.5 Z"/><path d="M1457 525 H1468 V528.5 Q1468 533 1463 533 H1462 Q1457 533 1457 528.5 Z"/><path d="M1455 525.5 H1457"/><path d="M1446 524.5 L1451.5 519.5 L1453.5 521" stroke-width="1.5"/><path d="M1466 524.5 L1460.5 519.5 L1458.5 521" stroke-width="1.5"/></g><rect x="1508" y="522" width="32" height="16" fill="#fff"/><rect x="1508" y="522" width="32" height="1" fill="#FF8000"/><rect x="1508" y="537" width="32" height="1" fill="#FF8000"/><rect x="1508" y="522" width="1" height="16" fill="#FF8000"/><rect x="1539" y="522" width="1" height="16" fill="#FF8000"/><rect x="1510" y="524" width="6" height="12" fill="#FFD9B0"/><path d="M1512 526 L1516 530 L1512 534 Z" fill="#000"/><text x="1516.5" y="534" font-size="9.5" font-weight="bold" fill="#FF8000" text-anchor="start" textLength="15.5" lengthAdjust="spacingAndGlyphs">SGL</text><rect x="1533" y="525" width="3" height="10" fill="#FF8000"/><text x="1541.5" y="535" font-size="13" font-weight="normal" fill="#000" text-anchor="start" textLength="52.5" lengthAdjust="spacingAndGlyphs">prediction</text><rect x="695" y="507" width="32" height="17" fill="#FFFFDC"/><rect x="695" y="507" width="32" height="1" fill="#555540"/><rect x="695" y="523" width="32" height="1" fill="#555540"/><rect x="695" y="507" width="1" height="17" fill="#555540"/><rect x="726" y="507" width="1" height="17" fill="#555540"/><g fill="none" stroke="#000" stroke-width="1.2"><rect x="698.5" y="509.5" width="4" height="4"/><rect x="698.5" y="517.5" width="4" height="4"/><rect x="715.5" y="509.5" width="8" height="12"/><path d="M719.5 509.5 V521.5 M715.5 515.5 H723.5"/></g><g fill="#000"><rect x="704" y="511" width="1" height="1"/><rect x="706" y="511" width="1" height="1"/><rect x="704" y="519" width="1" height="1"/><rect x="706" y="519" width="1" height="1"/><path d="M708 509.5 L711 511.5 L708 513.5 Z M708 517.5 L711 519.5 L708 521.5 Z" shape-rendering="geometricPrecision"/></g><path d="M713.5 509 Q711.5 515.5 713.5 522" fill="none" stroke="#000" stroke-width="1" shape-rendering="geometricPrecision"/><rect x="745" y="530" width="32" height="18" fill="#FFFFDC"/><rect x="745" y="530" width="32" height="1" fill="#555540"/><rect x="745" y="547" width="32" height="1" fill="#555540"/><rect x="745" y="530" width="1" height="18" fill="#555540"/><rect x="776" y="530" width="1" height="18" fill="#555540"/><text x="747" y="538" font-size="8" font-weight="bold" fill="#000" text-anchor="start" textLength="8" lengthAdjust="spacingAndGlyphs">?!</text><text x="747" y="546" font-size="8" font-weight="bold" fill="#000" text-anchor="start" textLength="8" lengthAdjust="spacingAndGlyphs">?!</text><text x="759" y="542" font-size="8" font-weight="bold" fill="#000" text-anchor="start" textLength="14" lengthAdjust="spacingAndGlyphs">➜?!</text><rect x="4" y="337" width="33" height="22" fill="#fff"/><rect x="4" y="337" width="33" height="1" fill="#0000FF"/><rect x="4" y="358" width="33" height="1" fill="#0000FF"/><rect x="4" y="337" width="1" height="22" fill="#0000FF"/><rect x="36" y="337" width="1" height="22" fill="#0000FF"/><rect x="6" y="339" width="29" height="18" fill="#fff"/><rect x="6" y="339" width="29" height="1" fill="#0000FF"/><rect x="6" y="356" width="29" height="1" fill="#0000FF"/><rect x="6" y="339" width="1" height="18" fill="#0000FF"/><rect x="34" y="339" width="1" height="18" fill="#0000FF"/><rect x="12" y="340" width="1" height="16" fill="#0000FF"/><path d="M7.5 345 L9.5 341.5 L11.5 345 Z M7.5 350 L9.5 353.5 L11.5 350 Z" fill="#0000FF" shape-rendering="geometricPrecision"/><rect x="7" y="347" width="5" height="1" fill="#0000FF"/><text x="14" y="353" font-size="13" font-weight="normal" fill="#000" text-anchor="start" textLength="7" lengthAdjust="spacingAndGlyphs">0</text><rect x="36" y="337" width="26" height="44" fill="#fff"/><rect x="36" y="337" width="26" height="1" fill="#0000FF"/><rect x="36" y="380" width="26" height="1" fill="#0000FF"/><rect x="36" y="337" width="1" height="44" fill="#0000FF"/><rect x="61" y="337" width="1" height="44" fill="#0000FF"/><rect x="38" y="339" width="22" height="40" fill="#0000FF"/><rect x="38" y="339" width="22" height="3" fill="#0000FF"/><rect x="38" y="376" width="22" height="3" fill="#0000FF"/><rect x="38" y="339" width="3" height="40" fill="#0000FF"/><rect x="57" y="339" width="3" height="40" fill="#0000FF"/><rect x="41" y="342" width="16" height="15" fill="#fff"/><rect x="41" y="361" width="16" height="15" fill="#fff"/><text x="43" y="354" font-size="13" font-weight="normal" fill="#000" text-anchor="start" textLength="7" lengthAdjust="spacingAndGlyphs">7</text><text x="43" y="373" font-size="13" font-weight="normal" fill="#000" text-anchor="start" textLength="12" lengthAdjust="spacingAndGlyphs">15</text><text x="75" y="363.5" font-size="13" font-weight="normal" fill="#000" text-anchor="start" textLength="178.5" lengthAdjust="spacingAndGlyphs">data dimension (Tq = 7, dim = 15)</text><rect x="15" y="499" width="32" height="22" fill="#fff"/><rect x="15" y="499" width="32" height="1" fill="#0000FF"/><rect x="15" y="520" width="32" height="1" fill="#0000FF"/><rect x="15" y="499" width="1" height="22" fill="#0000FF"/><rect x="46" y="499" width="1" height="22" fill="#0000FF"/><rect x="17" y="501" width="28" height="18" fill="#fff"/><rect x="17" y="501" width="28" height="1" fill="#0000FF"/><rect x="17" y="518" width="28" height="1" fill="#0000FF"/><rect x="17" y="501" width="1" height="18" fill="#0000FF"/><rect x="44" y="501" width="1" height="18" fill="#0000FF"/><rect x="23" y="502" width="1" height="16" fill="#0000FF"/><path d="M18.5 507 L20.5 503.5 L22.5 507 Z M18.5 512 L20.5 515.5 L22.5 512 Z" fill="#0000FF" shape-rendering="geometricPrecision"/><rect x="18" y="509" width="5" height="1" fill="#0000FF"/><text x="25" y="515" font-size="13" font-weight="normal" fill="#000" text-anchor="start" textLength="7" lengthAdjust="spacingAndGlyphs">0</text><rect x="47" y="499" width="29" height="44" fill="#fff"/><rect x="47" y="499" width="29" height="1" fill="#0000FF"/><rect x="47" y="542" width="29" height="1" fill="#0000FF"/><rect x="47" y="499" width="1" height="44" fill="#0000FF"/><rect x="75" y="499" width="1" height="44" fill="#0000FF"/><rect x="49" y="501" width="25" height="40" fill="#0000FF"/><rect x="49" y="501" width="25" height="3" fill="#0000FF"/><rect x="49" y="538" width="25" height="3" fill="#0000FF"/><rect x="49" y="501" width="3" height="40" fill="#0000FF"/><rect x="71" y="501" width="3" height="40" fill="#0000FF"/><rect x="52" y="504" width="20" height="15" fill="#fff"/><rect x="52" y="523" width="20" height="15" fill="#fff"/><text x="54" y="516" font-size="13" font-weight="normal" fill="#000" text-anchor="start" textLength="7" lengthAdjust="spacingAndGlyphs">7</text><text x="54" y="535" font-size="13" font-weight="normal" fill="#000" text-anchor="start" textLength="12" lengthAdjust="spacingAndGlyphs">15</text><text x="87" y="525.5" font-size="13" font-weight="normal" fill="#000" text-anchor="start" textLength="176.5" lengthAdjust="spacingAndGlyphs">data dimension (Tv = 7, dim = 15)</text>
</svg></body></html>
